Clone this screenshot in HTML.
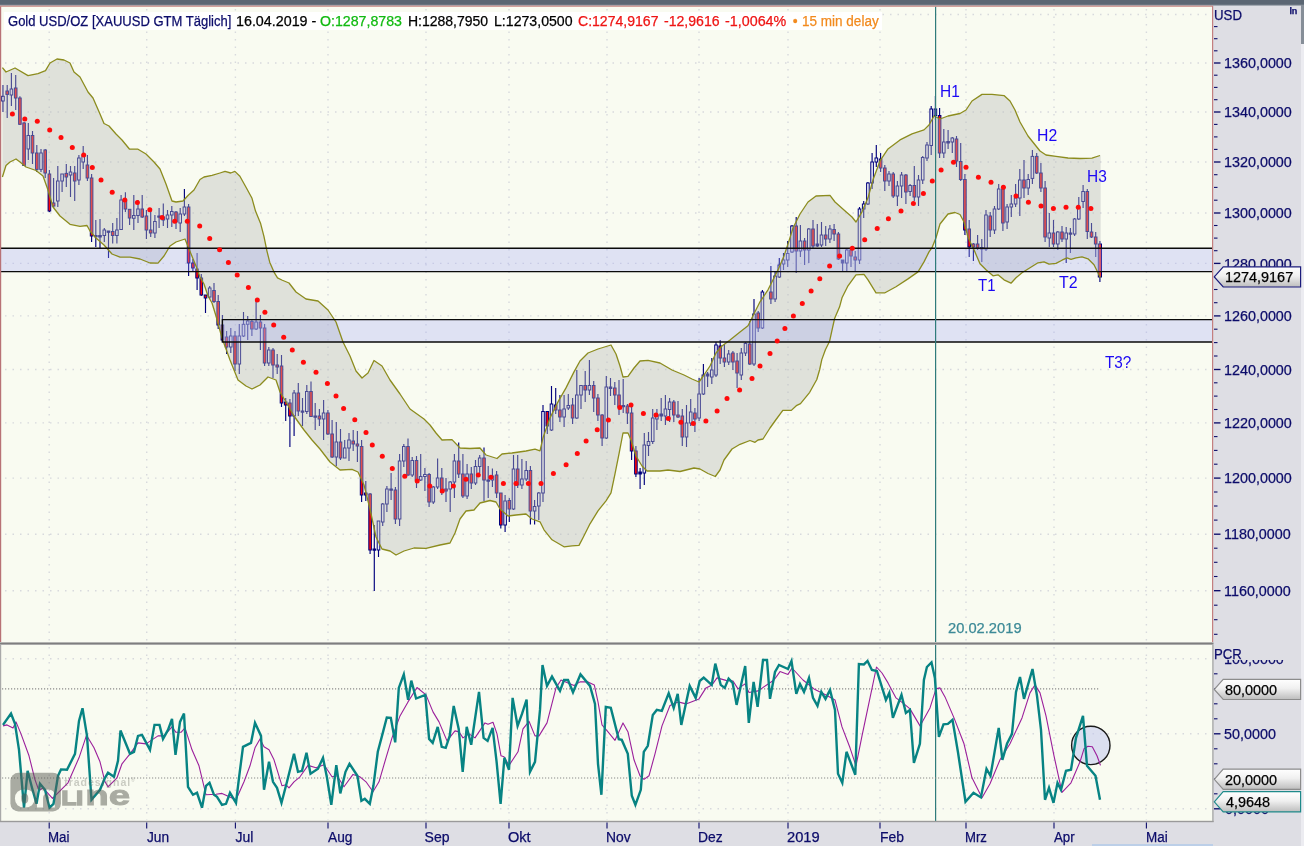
<!DOCTYPE html><html><head><meta charset="utf-8"><title>Gold USD/OZ</title>
<style>
html,body{margin:0;padding:0;background:#dedee4;}
#c{position:relative;width:1304px;height:846px;overflow:hidden;font-family:"Liberation Sans",sans-serif;font-size:14px;color:#0c0c6a;}
.t{position:absolute;white-space:nowrap;line-height:16px;height:16px;-webkit-text-stroke:0.25px currentColor;}
.ax{left:1224.6px;}
.bl{color:#1212ee;font-size:17px;line-height:18px;height:18px;}
.fl{color:#000;left:1225.6px;}
#title{position:absolute;left:4px;top:12px;width:878px;height:18px;background:#ffffff;}
#title span{position:absolute;top:1px;line-height:16px;white-space:nowrap;-webkit-text-stroke:0.25px currentColor;}
</style></head><body><div id="c">
<svg width="1304" height="846" viewBox="0 0 1304 846" style="position:absolute;left:0;top:0">
<rect x="0" y="0" width="1304" height="846" fill="#dedee4"/>
<rect x="0" y="0" width="1304" height="5" fill="#5b6673"/>
<rect x="0" y="4.6" width="1304" height="1" fill="#7d8792"/>
<rect x="0" y="6" width="1213" height="637" fill="#f9fbf1"/>
<rect x="0" y="644" width="1213" height="177.5" fill="#f9fbf1"/>
<rect x="1301" y="5" width="3" height="841" fill="#ececf1"/>
<rect x="1301" y="5" width="3" height="39" fill="#868e98"/>
<rect x="1092" y="844" width="121" height="2" fill="#bccfe8"/>
<g stroke="#d8d9dd" stroke-width="1.4" stroke-dasharray="1.5 6" fill="none">
<line x1="5" x2="1212" y1="590.7" y2="590.7"/>
<line x1="5" x2="1212" y1="534.2" y2="534.2"/>
<line x1="5" x2="1212" y1="478.1" y2="478.1"/>
<line x1="5" x2="1212" y1="422.9" y2="422.9"/>
<line x1="5" x2="1212" y1="369.5" y2="369.5"/>
<line x1="5" x2="1212" y1="315.9" y2="315.9"/>
<line x1="5" x2="1212" y1="263.4" y2="263.4"/>
<line x1="5" x2="1212" y1="213.0" y2="213.0"/>
<line x1="5" x2="1212" y1="162.0" y2="162.0"/>
<line x1="5" x2="1212" y1="112.0" y2="112.0"/>
<line x1="5" x2="1212" y1="63.0" y2="63.0"/>
<line x1="5" x2="1212" y1="14.5" y2="14.5"/>
<line x1="49.2" x2="49.2" y1="9" y2="641"/>
<line x1="49.2" x2="49.2" y1="647" y2="820"/>
<line x1="146.7" x2="146.7" y1="9" y2="641"/>
<line x1="146.7" x2="146.7" y1="647" y2="820"/>
<line x1="235.4" x2="235.4" y1="9" y2="641"/>
<line x1="235.4" x2="235.4" y1="647" y2="820"/>
<line x1="328" x2="328" y1="9" y2="641"/>
<line x1="328" x2="328" y1="647" y2="820"/>
<line x1="426" x2="426" y1="9" y2="641"/>
<line x1="426" x2="426" y1="647" y2="820"/>
<line x1="509" x2="509" y1="9" y2="641"/>
<line x1="509" x2="509" y1="647" y2="820"/>
<line x1="607" x2="607" y1="9" y2="641"/>
<line x1="607" x2="607" y1="647" y2="820"/>
<line x1="699" x2="699" y1="9" y2="641"/>
<line x1="699" x2="699" y1="647" y2="820"/>
<line x1="788" x2="788" y1="9" y2="641"/>
<line x1="788" x2="788" y1="647" y2="820"/>
<line x1="880" x2="880" y1="9" y2="641"/>
<line x1="880" x2="880" y1="647" y2="820"/>
<line x1="966" x2="966" y1="9" y2="641"/>
<line x1="966" x2="966" y1="647" y2="820"/>
<line x1="1054" x2="1054" y1="9" y2="641"/>
<line x1="1054" x2="1054" y1="647" y2="820"/>
<line x1="1146.4" x2="1146.4" y1="9" y2="641"/>
<line x1="1146.4" x2="1146.4" y1="647" y2="820"/>
<line x1="5" x2="1212" y1="808.8" y2="808.8"/>
<line x1="5" x2="1212" y1="733.8" y2="733.8"/>
<line x1="5" x2="1212" y1="658.8" y2="658.8"/>
</g>
<g stroke="#00007c" stroke-width="1">
<line x1="3.0" x2="3.0" y1="85.0" y2="112.0" stroke-width="1.15"/>
<rect x="1.7" y="96.3" width="2.6" height="4.7" fill="#eeeff4"/>
<line x1="7.2" x2="7.2" y1="85.0" y2="118.0" stroke-width="1.15"/>
<rect x="5.9" y="91.0" width="2.6" height="3.4" fill="#ff0505"/>
<line x1="11.4" x2="11.4" y1="73.0" y2="106.0" stroke-width="1.15"/>
<rect x="10.1" y="89.0" width="2.6" height="6.0" fill="#eeeff4"/>
<line x1="15.7" x2="15.7" y1="75.0" y2="110.0" stroke-width="1.15"/>
<rect x="14.4" y="88.0" width="2.6" height="10.0" fill="#ff0505"/>
<line x1="19.9" x2="19.9" y1="96.3" y2="125.0" stroke-width="1.15"/>
<rect x="18.6" y="98.0" width="2.6" height="26.3" fill="#ff0505"/>
<line x1="24.1" x2="24.1" y1="122.0" y2="166.0" stroke-width="1.15"/>
<rect x="22.8" y="123.0" width="2.6" height="42.4" fill="#ff0505"/>
<line x1="28.3" x2="28.3" y1="123.0" y2="160.0" stroke-width="1.15"/>
<rect x="27.0" y="135.5" width="2.6" height="13.5" fill="#eeeff4"/>
<line x1="32.5" x2="32.5" y1="131.0" y2="164.0" stroke-width="1.15"/>
<rect x="31.2" y="135.5" width="2.6" height="17.5" fill="#ff0505"/>
<line x1="36.8" x2="36.8" y1="145.0" y2="172.0" stroke-width="1.15"/>
<rect x="35.5" y="153.0" width="2.6" height="16.4" fill="#ff0505"/>
<line x1="41.0" x2="41.0" y1="149.0" y2="172.0" stroke-width="1.15"/>
<rect x="39.7" y="153.0" width="2.6" height="16.4" fill="#eeeff4"/>
<line x1="45.2" x2="45.2" y1="149.0" y2="178.0" stroke-width="1.15"/>
<rect x="43.9" y="150.0" width="2.6" height="23.0" fill="#ff0505"/>
<line x1="49.4" x2="49.4" y1="170.0" y2="212.0" stroke-width="1.15"/>
<rect x="48.1" y="174.0" width="2.6" height="37.0" fill="#ff0505"/>
<line x1="53.6" x2="53.6" y1="178.0" y2="208.0" stroke-width="1.15"/>
<rect x="52.3" y="203.0" width="2.6" height="3.0" fill="#ff0505"/>
<line x1="57.8" x2="57.8" y1="166.0" y2="207.0" stroke-width="1.15"/>
<rect x="56.5" y="181.0" width="2.6" height="20.0" fill="#eeeff4"/>
<line x1="62.1" x2="62.1" y1="174.0" y2="192.0" stroke-width="1.15"/>
<rect x="60.8" y="174.0" width="2.6" height="7.0" fill="#eeeff4"/>
<line x1="66.3" x2="66.3" y1="164.0" y2="187.0" stroke-width="1.15"/>
<rect x="65.0" y="173.4" width="2.6" height="3.6" fill="#ff0505"/>
<line x1="70.5" x2="70.5" y1="166.0" y2="197.0" stroke-width="1.15"/>
<rect x="69.2" y="172.0" width="2.6" height="3.0" fill="#eeeff4"/>
<line x1="74.7" x2="74.7" y1="166.0" y2="201.0" stroke-width="1.15"/>
<rect x="73.4" y="173.0" width="2.6" height="8.0" fill="#ff0505"/>
<line x1="78.9" x2="78.9" y1="155.0" y2="185.0" stroke-width="1.15"/>
<rect x="77.6" y="158.0" width="2.6" height="22.0" fill="#eeeff4"/>
<line x1="83.2" x2="83.2" y1="146.0" y2="169.0" stroke-width="1.15"/>
<rect x="81.9" y="155.0" width="2.6" height="7.0" fill="#eeeff4"/>
<line x1="87.4" x2="87.4" y1="155.0" y2="181.0" stroke-width="1.15"/>
<rect x="86.1" y="165.0" width="2.6" height="13.0" fill="#ff0505"/>
<line x1="91.6" x2="91.6" y1="174.0" y2="242.0" stroke-width="1.15"/>
<rect x="90.3" y="178.0" width="2.6" height="58.0" fill="#ff0505"/>
<line x1="95.8" x2="95.8" y1="220.0" y2="247.0" stroke-width="1.15"/>
<rect x="94.5" y="235.5" width="2.6" height="1.2" fill="#00007c"/>
<line x1="100.0" x2="100.0" y1="219.0" y2="249.0" stroke-width="1.15"/>
<rect x="98.7" y="235.5" width="2.6" height="1.5" fill="#00007c"/>
<line x1="104.3" x2="104.3" y1="228.0" y2="242.0" stroke-width="1.15"/>
<rect x="103.0" y="230.0" width="2.6" height="5.5" fill="#eeeff4"/>
<line x1="108.5" x2="108.5" y1="231.0" y2="258.0" stroke-width="1.15"/>
<rect x="107.2" y="231.0" width="2.6" height="1.3" fill="#00007c"/>
<line x1="112.7" x2="112.7" y1="223.0" y2="243.5" stroke-width="1.15"/>
<rect x="111.4" y="231.5" width="2.6" height="4.0" fill="#ff0505"/>
<line x1="116.9" x2="116.9" y1="218.0" y2="243.5" stroke-width="1.15"/>
<rect x="115.6" y="230.0" width="2.6" height="5.5" fill="#eeeff4"/>
<line x1="121.1" x2="121.1" y1="195.0" y2="230.0" stroke-width="1.15"/>
<rect x="119.8" y="200.0" width="2.6" height="29.5" fill="#eeeff4"/>
<line x1="125.4" x2="125.4" y1="192.3" y2="212.0" stroke-width="1.15"/>
<rect x="124.1" y="200.0" width="2.6" height="9.0" fill="#ff0505"/>
<line x1="129.6" x2="129.6" y1="209.0" y2="225.0" stroke-width="1.15"/>
<rect x="128.3" y="209.3" width="2.6" height="8.7" fill="#ff0505"/>
<line x1="133.8" x2="133.8" y1="195.0" y2="230.0" stroke-width="1.15"/>
<rect x="132.5" y="215.5" width="2.6" height="2.8" fill="#eeeff4"/>
<line x1="138.0" x2="138.0" y1="200.0" y2="223.0" stroke-width="1.15"/>
<rect x="136.7" y="209.0" width="2.6" height="6.5" fill="#eeeff4"/>
<line x1="142.2" x2="142.2" y1="195.0" y2="218.0" stroke-width="1.15"/>
<rect x="140.9" y="209.0" width="2.6" height="8.0" fill="#ff0505"/>
<line x1="146.4" x2="146.4" y1="210.0" y2="239.0" stroke-width="1.15"/>
<rect x="145.1" y="216.0" width="2.6" height="14.0" fill="#ff0505"/>
<line x1="150.7" x2="150.7" y1="208.0" y2="237.0" stroke-width="1.15"/>
<rect x="149.4" y="230.0" width="2.6" height="3.0" fill="#ff0505"/>
<line x1="154.9" x2="154.9" y1="215.0" y2="238.0" stroke-width="1.15"/>
<rect x="153.6" y="221.5" width="2.6" height="11.5" fill="#eeeff4"/>
<line x1="159.1" x2="159.1" y1="208.0" y2="228.0" stroke-width="1.15"/>
<rect x="157.8" y="216.0" width="2.6" height="1.2" fill="#00007c"/>
<line x1="163.3" x2="163.3" y1="203.5" y2="226.0" stroke-width="1.15"/>
<rect x="162.0" y="217.0" width="2.6" height="3.0" fill="#ff0505"/>
<line x1="167.5" x2="167.5" y1="210.0" y2="228.0" stroke-width="1.15"/>
<rect x="166.2" y="215.0" width="2.6" height="4.0" fill="#eeeff4"/>
<line x1="171.8" x2="171.8" y1="206.0" y2="227.0" stroke-width="1.15"/>
<rect x="170.5" y="211.5" width="2.6" height="3.5" fill="#eeeff4"/>
<line x1="176.0" x2="176.0" y1="211.0" y2="229.0" stroke-width="1.15"/>
<rect x="174.7" y="212.0" width="2.6" height="10.0" fill="#ff0505"/>
<line x1="180.2" x2="180.2" y1="208.0" y2="232.0" stroke-width="1.15"/>
<rect x="178.9" y="214.0" width="2.6" height="9.0" fill="#eeeff4"/>
<line x1="184.4" x2="184.4" y1="189.0" y2="216.0" stroke-width="1.15"/>
<rect x="183.1" y="207.0" width="2.6" height="7.0" fill="#eeeff4"/>
<line x1="188.6" x2="188.6" y1="204.0" y2="276.0" stroke-width="1.15"/>
<rect x="187.3" y="207.0" width="2.6" height="56.0" fill="#ff0505"/>
<line x1="192.9" x2="192.9" y1="259.0" y2="271.0" stroke-width="1.15"/>
<rect x="191.6" y="263.0" width="2.6" height="5.0" fill="#ff0505"/>
<line x1="197.1" x2="197.1" y1="253.0" y2="290.0" stroke-width="1.15"/>
<rect x="195.8" y="269.0" width="2.6" height="9.0" fill="#ff0505"/>
<line x1="201.3" x2="201.3" y1="274.0" y2="296.0" stroke-width="1.15"/>
<rect x="200.0" y="278.0" width="2.6" height="17.0" fill="#ff0505"/>
<line x1="205.5" x2="205.5" y1="295.0" y2="313.0" stroke-width="1.15"/>
<rect x="204.2" y="295.0" width="2.6" height="3.0" fill="#ff0505"/>
<line x1="209.7" x2="209.7" y1="286.0" y2="299.0" stroke-width="1.15"/>
<rect x="208.4" y="288.0" width="2.6" height="9.0" fill="#eeeff4"/>
<line x1="214.0" x2="214.0" y1="283.0" y2="303.0" stroke-width="1.15"/>
<rect x="212.7" y="290.5" width="2.6" height="11.0" fill="#ff0505"/>
<line x1="218.2" x2="218.2" y1="295.0" y2="329.0" stroke-width="1.15"/>
<rect x="216.9" y="301.5" width="2.6" height="23.5" fill="#ff0505"/>
<line x1="222.4" x2="222.4" y1="315.0" y2="342.0" stroke-width="1.15"/>
<rect x="221.1" y="325.0" width="2.6" height="15.0" fill="#ff0505"/>
<line x1="226.6" x2="226.6" y1="331.0" y2="354.0" stroke-width="1.15"/>
<rect x="225.3" y="337.0" width="2.6" height="10.0" fill="#ff0505"/>
<line x1="230.8" x2="230.8" y1="328.0" y2="353.0" stroke-width="1.15"/>
<rect x="229.5" y="336.0" width="2.6" height="11.0" fill="#eeeff4"/>
<line x1="235.0" x2="235.0" y1="331.0" y2="371.0" stroke-width="1.15"/>
<rect x="233.7" y="336.0" width="2.6" height="28.0" fill="#ff0505"/>
<line x1="239.3" x2="239.3" y1="324.0" y2="374.0" stroke-width="1.15"/>
<rect x="238.0" y="336.0" width="2.6" height="28.0" fill="#eeeff4"/>
<line x1="243.5" x2="243.5" y1="312.0" y2="337.0" stroke-width="1.15"/>
<rect x="242.2" y="324.3" width="2.6" height="11.7" fill="#eeeff4"/>
<line x1="247.7" x2="247.7" y1="316.0" y2="340.0" stroke-width="1.15"/>
<rect x="246.4" y="321.0" width="2.6" height="3.3" fill="#eeeff4"/>
<line x1="251.9" x2="251.9" y1="320.0" y2="336.0" stroke-width="1.15"/>
<rect x="250.6" y="321.5" width="2.6" height="7.5" fill="#ff0505"/>
<line x1="256.1" x2="256.1" y1="301.0" y2="330.0" stroke-width="1.15"/>
<rect x="254.8" y="322.0" width="2.6" height="7.0" fill="#eeeff4"/>
<line x1="260.4" x2="260.4" y1="315.0" y2="350.0" stroke-width="1.15"/>
<rect x="259.1" y="322.0" width="2.6" height="6.0" fill="#ff0505"/>
<line x1="264.6" x2="264.6" y1="324.0" y2="366.0" stroke-width="1.15"/>
<rect x="263.3" y="328.0" width="2.6" height="35.0" fill="#ff0505"/>
<line x1="268.8" x2="268.8" y1="347.0" y2="366.0" stroke-width="1.15"/>
<rect x="267.5" y="350.0" width="2.6" height="13.0" fill="#eeeff4"/>
<line x1="273.0" x2="273.0" y1="348.0" y2="378.0" stroke-width="1.15"/>
<rect x="271.7" y="350.0" width="2.6" height="15.0" fill="#ff0505"/>
<line x1="277.2" x2="277.2" y1="354.0" y2="374.0" stroke-width="1.15"/>
<rect x="275.9" y="365.0" width="2.6" height="2.0" fill="#ff0505"/>
<line x1="281.5" x2="281.5" y1="355.0" y2="407.0" stroke-width="1.15"/>
<rect x="280.2" y="366.0" width="2.6" height="37.0" fill="#ff0505"/>
<line x1="285.7" x2="285.7" y1="398.0" y2="421.0" stroke-width="1.15"/>
<rect x="284.4" y="402.0" width="2.6" height="3.0" fill="#ff0505"/>
<line x1="289.9" x2="289.9" y1="399.0" y2="447.0" stroke-width="1.15"/>
<rect x="288.6" y="403.0" width="2.6" height="13.0" fill="#ff0505"/>
<line x1="294.1" x2="294.1" y1="390.0" y2="436.0" stroke-width="1.15"/>
<rect x="292.8" y="393.0" width="2.6" height="23.0" fill="#eeeff4"/>
<line x1="298.3" x2="298.3" y1="383.0" y2="416.0" stroke-width="1.15"/>
<rect x="297.0" y="393.0" width="2.6" height="18.0" fill="#ff0505"/>
<line x1="302.5" x2="302.5" y1="398.0" y2="426.0" stroke-width="1.15"/>
<rect x="301.2" y="411.0" width="2.6" height="1.2" fill="#00007c"/>
<line x1="306.8" x2="306.8" y1="385.0" y2="414.0" stroke-width="1.15"/>
<rect x="305.5" y="391.5" width="2.6" height="20.0" fill="#eeeff4"/>
<line x1="311.0" x2="311.0" y1="381.5" y2="417.0" stroke-width="1.15"/>
<rect x="309.7" y="391.5" width="2.6" height="25.0" fill="#ff0505"/>
<line x1="315.2" x2="315.2" y1="403.0" y2="430.0" stroke-width="1.15"/>
<rect x="313.9" y="416.0" width="2.6" height="1.2" fill="#00007c"/>
<line x1="319.4" x2="319.4" y1="409.0" y2="426.0" stroke-width="1.15"/>
<rect x="318.1" y="416.0" width="2.6" height="3.0" fill="#ff0505"/>
<line x1="323.6" x2="323.6" y1="400.0" y2="440.0" stroke-width="1.15"/>
<rect x="322.3" y="413.0" width="2.6" height="6.0" fill="#eeeff4"/>
<line x1="327.9" x2="327.9" y1="410.0" y2="435.0" stroke-width="1.15"/>
<rect x="326.6" y="413.0" width="2.6" height="21.0" fill="#ff0505"/>
<line x1="332.1" x2="332.1" y1="420.0" y2="458.0" stroke-width="1.15"/>
<rect x="330.8" y="434.0" width="2.6" height="23.0" fill="#ff0505"/>
<line x1="336.3" x2="336.3" y1="422.0" y2="466.0" stroke-width="1.15"/>
<rect x="335.0" y="442.0" width="2.6" height="15.0" fill="#eeeff4"/>
<line x1="340.5" x2="340.5" y1="429.0" y2="460.0" stroke-width="1.15"/>
<rect x="339.2" y="442.0" width="2.6" height="16.0" fill="#ff0505"/>
<line x1="344.7" x2="344.7" y1="440.0" y2="458.0" stroke-width="1.15"/>
<rect x="343.4" y="448.0" width="2.6" height="10.0" fill="#eeeff4"/>
<line x1="349.0" x2="349.0" y1="433.0" y2="461.0" stroke-width="1.15"/>
<rect x="347.7" y="440.0" width="2.6" height="8.0" fill="#eeeff4"/>
<line x1="353.2" x2="353.2" y1="430.0" y2="451.0" stroke-width="1.15"/>
<rect x="351.9" y="441.0" width="2.6" height="3.0" fill="#ff0505"/>
<line x1="357.4" x2="357.4" y1="431.0" y2="462.0" stroke-width="1.15"/>
<rect x="356.1" y="444.0" width="2.6" height="2.0" fill="#ff0505"/>
<line x1="361.6" x2="361.6" y1="440.0" y2="502.0" stroke-width="1.15"/>
<rect x="360.3" y="446.5" width="2.6" height="48.5" fill="#ff0505"/>
<line x1="365.8" x2="365.8" y1="481.0" y2="501.0" stroke-width="1.15"/>
<rect x="364.5" y="493.0" width="2.6" height="2.0" fill="#ff0505"/>
<line x1="370.1" x2="370.1" y1="493.0" y2="554.0" stroke-width="1.15"/>
<rect x="368.8" y="494.0" width="2.6" height="56.0" fill="#ff0505"/>
<line x1="374.3" x2="374.3" y1="525.0" y2="591.0" stroke-width="1.15"/>
<rect x="373.0" y="549.0" width="2.6" height="1.2" fill="#00007c"/>
<line x1="378.5" x2="378.5" y1="521.0" y2="557.0" stroke-width="1.15"/>
<rect x="377.2" y="521.0" width="2.6" height="29.0" fill="#eeeff4"/>
<line x1="382.7" x2="382.7" y1="503.0" y2="526.0" stroke-width="1.15"/>
<rect x="381.4" y="504.0" width="2.6" height="18.0" fill="#eeeff4"/>
<line x1="386.9" x2="386.9" y1="486.0" y2="512.0" stroke-width="1.15"/>
<rect x="385.6" y="489.0" width="2.6" height="15.0" fill="#eeeff4"/>
<line x1="391.1" x2="391.1" y1="473.0" y2="500.0" stroke-width="1.15"/>
<rect x="389.8" y="489.0" width="2.6" height="1.2" fill="#00007c"/>
<line x1="395.4" x2="395.4" y1="487.0" y2="524.0" stroke-width="1.15"/>
<rect x="394.1" y="490.0" width="2.6" height="29.0" fill="#ff0505"/>
<line x1="399.6" x2="399.6" y1="454.0" y2="526.0" stroke-width="1.15"/>
<rect x="398.3" y="461.0" width="2.6" height="58.0" fill="#eeeff4"/>
<line x1="403.8" x2="403.8" y1="444.0" y2="467.0" stroke-width="1.15"/>
<rect x="402.5" y="446.5" width="2.6" height="14.5" fill="#eeeff4"/>
<line x1="408.0" x2="408.0" y1="438.6" y2="476.0" stroke-width="1.15"/>
<rect x="406.7" y="446.5" width="2.6" height="28.5" fill="#ff0505"/>
<line x1="412.2" x2="412.2" y1="457.0" y2="477.0" stroke-width="1.15"/>
<rect x="410.9" y="460.5" width="2.6" height="14.5" fill="#eeeff4"/>
<line x1="416.5" x2="416.5" y1="456.0" y2="488.0" stroke-width="1.15"/>
<rect x="415.2" y="460.5" width="2.6" height="19.5" fill="#ff0505"/>
<line x1="420.7" x2="420.7" y1="454.0" y2="481.0" stroke-width="1.15"/>
<rect x="419.4" y="476.5" width="2.6" height="3.5" fill="#eeeff4"/>
<line x1="424.9" x2="424.9" y1="468.0" y2="491.0" stroke-width="1.15"/>
<rect x="423.6" y="474.5" width="2.6" height="2.0" fill="#eeeff4"/>
<line x1="429.1" x2="429.1" y1="473.0" y2="507.0" stroke-width="1.15"/>
<rect x="427.8" y="474.5" width="2.6" height="27.5" fill="#ff0505"/>
<line x1="433.3" x2="433.3" y1="486.0" y2="504.0" stroke-width="1.15"/>
<rect x="432.0" y="487.0" width="2.6" height="15.0" fill="#eeeff4"/>
<line x1="437.6" x2="437.6" y1="458.5" y2="489.0" stroke-width="1.15"/>
<rect x="436.3" y="478.0" width="2.6" height="9.0" fill="#eeeff4"/>
<line x1="441.8" x2="441.8" y1="468.0" y2="495.0" stroke-width="1.15"/>
<rect x="440.5" y="478.0" width="2.6" height="14.0" fill="#ff0505"/>
<line x1="446.0" x2="446.0" y1="478.0" y2="502.0" stroke-width="1.15"/>
<rect x="444.7" y="489.0" width="2.6" height="2.0" fill="#ff0505"/>
<line x1="450.2" x2="450.2" y1="481.0" y2="512.0" stroke-width="1.15"/>
<rect x="448.9" y="482.0" width="2.6" height="7.0" fill="#eeeff4"/>
<line x1="454.4" x2="454.4" y1="454.0" y2="498.0" stroke-width="1.15"/>
<rect x="453.1" y="461.0" width="2.6" height="21.0" fill="#eeeff4"/>
<line x1="458.7" x2="458.7" y1="442.6" y2="478.0" stroke-width="1.15"/>
<rect x="457.4" y="461.0" width="2.6" height="13.0" fill="#ff0505"/>
<line x1="462.9" x2="462.9" y1="454.0" y2="498.0" stroke-width="1.15"/>
<rect x="461.6" y="474.0" width="2.6" height="22.0" fill="#ff0505"/>
<line x1="467.1" x2="467.1" y1="464.0" y2="499.0" stroke-width="1.15"/>
<rect x="465.8" y="474.0" width="2.6" height="22.0" fill="#eeeff4"/>
<line x1="471.3" x2="471.3" y1="467.0" y2="489.0" stroke-width="1.15"/>
<rect x="470.0" y="474.0" width="2.6" height="9.0" fill="#ff0505"/>
<line x1="475.5" x2="475.5" y1="460.0" y2="485.0" stroke-width="1.15"/>
<rect x="474.2" y="466.5" width="2.6" height="16.5" fill="#eeeff4"/>
<line x1="479.7" x2="479.7" y1="455.0" y2="473.0" stroke-width="1.15"/>
<rect x="478.4" y="458.0" width="2.6" height="8.5" fill="#eeeff4"/>
<line x1="484.0" x2="484.0" y1="447.4" y2="501.0" stroke-width="1.15"/>
<rect x="482.7" y="458.0" width="2.6" height="22.0" fill="#ff0505"/>
<line x1="488.2" x2="488.2" y1="466.0" y2="498.0" stroke-width="1.15"/>
<rect x="486.9" y="480.0" width="2.6" height="1.2" fill="#00007c"/>
<line x1="492.4" x2="492.4" y1="468.5" y2="487.0" stroke-width="1.15"/>
<rect x="491.1" y="476.0" width="2.6" height="4.0" fill="#eeeff4"/>
<line x1="496.6" x2="496.6" y1="471.0" y2="498.0" stroke-width="1.15"/>
<rect x="495.3" y="475.0" width="2.6" height="18.0" fill="#ff0505"/>
<line x1="500.8" x2="500.8" y1="493.0" y2="528.5" stroke-width="1.15"/>
<rect x="499.5" y="493.0" width="2.6" height="32.0" fill="#ff0505"/>
<line x1="505.1" x2="505.1" y1="495.0" y2="532.0" stroke-width="1.15"/>
<rect x="503.8" y="501.0" width="2.6" height="24.0" fill="#eeeff4"/>
<line x1="509.3" x2="509.3" y1="498.0" y2="522.0" stroke-width="1.15"/>
<rect x="508.0" y="500.5" width="2.6" height="8.5" fill="#ff0505"/>
<line x1="513.5" x2="513.5" y1="455.0" y2="510.0" stroke-width="1.15"/>
<rect x="512.2" y="469.0" width="2.6" height="40.0" fill="#eeeff4"/>
<line x1="517.7" x2="517.7" y1="455.0" y2="488.0" stroke-width="1.15"/>
<rect x="516.4" y="469.0" width="2.6" height="16.0" fill="#ff0505"/>
<line x1="521.9" x2="521.9" y1="459.0" y2="489.0" stroke-width="1.15"/>
<rect x="520.6" y="479.0" width="2.6" height="6.0" fill="#eeeff4"/>
<line x1="526.2" x2="526.2" y1="461.0" y2="481.0" stroke-width="1.15"/>
<rect x="524.9" y="470.5" width="2.6" height="8.5" fill="#eeeff4"/>
<line x1="530.4" x2="530.4" y1="466.0" y2="524.5" stroke-width="1.15"/>
<rect x="529.1" y="470.5" width="2.6" height="40.5" fill="#ff0505"/>
<line x1="534.6" x2="534.6" y1="500.0" y2="524.5" stroke-width="1.15"/>
<rect x="533.3" y="506.5" width="2.6" height="4.5" fill="#eeeff4"/>
<line x1="538.8" x2="538.8" y1="492.0" y2="520.0" stroke-width="1.15"/>
<rect x="537.5" y="493.0" width="2.6" height="13.0" fill="#eeeff4"/>
<line x1="543.0" x2="543.0" y1="405.0" y2="502.0" stroke-width="1.15"/>
<rect x="541.7" y="411.5" width="2.6" height="81.5" fill="#eeeff4"/>
<line x1="547.3" x2="547.3" y1="411.0" y2="434.0" stroke-width="1.15"/>
<rect x="546.0" y="411.5" width="2.6" height="14.5" fill="#ff0505"/>
<line x1="551.5" x2="551.5" y1="386.0" y2="431.0" stroke-width="1.15"/>
<rect x="550.2" y="404.0" width="2.6" height="26.0" fill="#eeeff4"/>
<line x1="555.7" x2="555.7" y1="388.0" y2="414.0" stroke-width="1.15"/>
<rect x="554.4" y="405.0" width="2.6" height="5.0" fill="#ff0505"/>
<line x1="559.9" x2="559.9" y1="395.0" y2="422.0" stroke-width="1.15"/>
<rect x="558.6" y="410.0" width="2.6" height="7.0" fill="#ff0505"/>
<line x1="564.1" x2="564.1" y1="395.0" y2="427.0" stroke-width="1.15"/>
<rect x="562.8" y="409.0" width="2.6" height="8.0" fill="#eeeff4"/>
<line x1="568.3" x2="568.3" y1="394.0" y2="410.0" stroke-width="1.15"/>
<rect x="567.0" y="405.5" width="2.6" height="2.5" fill="#eeeff4"/>
<line x1="572.6" x2="572.6" y1="398.0" y2="424.0" stroke-width="1.15"/>
<rect x="571.3" y="405.0" width="2.6" height="13.0" fill="#ff0505"/>
<line x1="576.8" x2="576.8" y1="370.0" y2="419.0" stroke-width="1.15"/>
<rect x="575.5" y="395.0" width="2.6" height="23.0" fill="#eeeff4"/>
<line x1="581.0" x2="581.0" y1="385.0" y2="409.0" stroke-width="1.15"/>
<rect x="579.7" y="385.5" width="2.6" height="9.5" fill="#eeeff4"/>
<line x1="585.2" x2="585.2" y1="371.0" y2="402.0" stroke-width="1.15"/>
<rect x="583.9" y="385.5" width="2.6" height="4.5" fill="#ff0505"/>
<line x1="589.4" x2="589.4" y1="360.0" y2="395.0" stroke-width="1.15"/>
<rect x="588.1" y="385.5" width="2.6" height="4.5" fill="#eeeff4"/>
<line x1="593.7" x2="593.7" y1="381.0" y2="412.0" stroke-width="1.15"/>
<rect x="592.4" y="385.5" width="2.6" height="12.5" fill="#ff0505"/>
<line x1="597.9" x2="597.9" y1="394.0" y2="421.0" stroke-width="1.15"/>
<rect x="596.6" y="398.0" width="2.6" height="17.0" fill="#ff0505"/>
<line x1="602.1" x2="602.1" y1="414.0" y2="446.0" stroke-width="1.15"/>
<rect x="600.8" y="415.0" width="2.6" height="23.0" fill="#ff0505"/>
<line x1="606.3" x2="606.3" y1="376.0" y2="439.0" stroke-width="1.15"/>
<rect x="605.0" y="387.0" width="2.6" height="51.0" fill="#eeeff4"/>
<line x1="610.5" x2="610.5" y1="378.0" y2="396.0" stroke-width="1.15"/>
<rect x="609.2" y="387.0" width="2.6" height="1.5" fill="#00007c"/>
<line x1="614.8" x2="614.8" y1="382.0" y2="405.0" stroke-width="1.15"/>
<rect x="613.5" y="388.0" width="2.6" height="7.0" fill="#ff0505"/>
<line x1="619.0" x2="619.0" y1="380.0" y2="415.0" stroke-width="1.15"/>
<rect x="617.7" y="395.0" width="2.6" height="12.0" fill="#ff0505"/>
<line x1="623.2" x2="623.2" y1="379.0" y2="413.0" stroke-width="1.15"/>
<rect x="621.9" y="405.5" width="2.6" height="1.2" fill="#00007c"/>
<line x1="627.4" x2="627.4" y1="404.0" y2="424.0" stroke-width="1.15"/>
<rect x="626.1" y="406.0" width="2.6" height="7.0" fill="#ff0505"/>
<line x1="631.6" x2="631.6" y1="407.0" y2="460.0" stroke-width="1.15"/>
<rect x="630.3" y="413.0" width="2.6" height="38.0" fill="#ff0505"/>
<line x1="635.9" x2="635.9" y1="446.0" y2="477.0" stroke-width="1.15"/>
<rect x="634.6" y="451.0" width="2.6" height="23.0" fill="#ff0505"/>
<line x1="640.1" x2="640.1" y1="468.0" y2="489.0" stroke-width="1.15"/>
<rect x="638.8" y="472.0" width="2.6" height="2.0" fill="#00007c"/>
<line x1="644.3" x2="644.3" y1="433.0" y2="485.0" stroke-width="1.15"/>
<rect x="643.0" y="445.0" width="2.6" height="28.0" fill="#eeeff4"/>
<line x1="648.5" x2="648.5" y1="432.0" y2="456.0" stroke-width="1.15"/>
<rect x="647.2" y="441.5" width="2.6" height="4.0" fill="#eeeff4"/>
<line x1="652.7" x2="652.7" y1="409.0" y2="444.0" stroke-width="1.15"/>
<rect x="651.4" y="418.0" width="2.6" height="23.5" fill="#eeeff4"/>
<line x1="656.9" x2="656.9" y1="409.0" y2="430.0" stroke-width="1.15"/>
<rect x="655.6" y="415.0" width="2.6" height="4.0" fill="#eeeff4"/>
<line x1="661.2" x2="661.2" y1="398.0" y2="421.0" stroke-width="1.15"/>
<rect x="659.9" y="414.0" width="2.6" height="2.0" fill="#00007c"/>
<line x1="665.4" x2="665.4" y1="395.0" y2="425.0" stroke-width="1.15"/>
<rect x="664.1" y="409.0" width="2.6" height="7.0" fill="#eeeff4"/>
<line x1="669.6" x2="669.6" y1="398.0" y2="422.0" stroke-width="1.15"/>
<rect x="668.3" y="402.0" width="2.6" height="7.5" fill="#eeeff4"/>
<line x1="673.8" x2="673.8" y1="400.0" y2="422.0" stroke-width="1.15"/>
<rect x="672.5" y="402.0" width="2.6" height="13.0" fill="#ff0505"/>
<line x1="678.0" x2="678.0" y1="401.0" y2="418.0" stroke-width="1.15"/>
<rect x="676.7" y="415.0" width="2.6" height="2.0" fill="#ff0505"/>
<line x1="682.3" x2="682.3" y1="409.0" y2="446.0" stroke-width="1.15"/>
<rect x="681.0" y="416.0" width="2.6" height="21.0" fill="#ff0505"/>
<line x1="686.5" x2="686.5" y1="405.0" y2="447.0" stroke-width="1.15"/>
<rect x="685.2" y="423.0" width="2.6" height="14.0" fill="#eeeff4"/>
<line x1="690.7" x2="690.7" y1="399.0" y2="426.0" stroke-width="1.15"/>
<rect x="689.4" y="412.0" width="2.6" height="11.0" fill="#eeeff4"/>
<line x1="694.9" x2="694.9" y1="408.0" y2="432.0" stroke-width="1.15"/>
<rect x="693.6" y="413.0" width="2.6" height="6.0" fill="#ff0505"/>
<line x1="699.1" x2="699.1" y1="378.0" y2="421.0" stroke-width="1.15"/>
<rect x="697.8" y="394.0" width="2.6" height="24.0" fill="#eeeff4"/>
<line x1="703.4" x2="703.4" y1="364.0" y2="395.0" stroke-width="1.15"/>
<rect x="702.1" y="375.0" width="2.6" height="19.0" fill="#eeeff4"/>
<line x1="707.6" x2="707.6" y1="372.0" y2="387.0" stroke-width="1.15"/>
<rect x="706.3" y="374.0" width="2.6" height="2.0" fill="#00007c"/>
<line x1="711.8" x2="711.8" y1="358.0" y2="384.0" stroke-width="1.15"/>
<rect x="710.5" y="370.0" width="2.6" height="7.0" fill="#eeeff4"/>
<line x1="716.0" x2="716.0" y1="342.0" y2="377.0" stroke-width="1.15"/>
<rect x="714.7" y="345.0" width="2.6" height="30.0" fill="#eeeff4"/>
<line x1="720.2" x2="720.2" y1="340.0" y2="364.0" stroke-width="1.15"/>
<rect x="718.9" y="346.0" width="2.6" height="12.0" fill="#ff0505"/>
<line x1="724.4" x2="724.4" y1="344.0" y2="367.0" stroke-width="1.15"/>
<rect x="723.1" y="358.0" width="2.6" height="4.0" fill="#ff0505"/>
<line x1="728.7" x2="728.7" y1="350.0" y2="365.0" stroke-width="1.15"/>
<rect x="727.4" y="354.0" width="2.6" height="8.0" fill="#eeeff4"/>
<line x1="732.9" x2="732.9" y1="351.0" y2="370.0" stroke-width="1.15"/>
<rect x="731.6" y="353.0" width="2.6" height="9.0" fill="#ff0505"/>
<line x1="737.1" x2="737.1" y1="353.0" y2="388.0" stroke-width="1.15"/>
<rect x="735.8" y="361.0" width="2.6" height="12.0" fill="#ff0505"/>
<line x1="741.3" x2="741.3" y1="348.0" y2="380.0" stroke-width="1.15"/>
<rect x="740.0" y="353.0" width="2.6" height="22.0" fill="#eeeff4"/>
<line x1="745.5" x2="745.5" y1="342.0" y2="356.0" stroke-width="1.15"/>
<rect x="744.2" y="343.5" width="2.6" height="9.5" fill="#eeeff4"/>
<line x1="749.8" x2="749.8" y1="321.0" y2="365.0" stroke-width="1.15"/>
<rect x="748.5" y="344.0" width="2.6" height="20.0" fill="#ff0505"/>
<line x1="754.0" x2="754.0" y1="299.0" y2="366.0" stroke-width="1.15"/>
<rect x="752.7" y="314.0" width="2.6" height="50.0" fill="#eeeff4"/>
<line x1="758.2" x2="758.2" y1="311.0" y2="332.0" stroke-width="1.15"/>
<rect x="756.9" y="313.0" width="2.6" height="15.0" fill="#ff0505"/>
<line x1="762.4" x2="762.4" y1="290.0" y2="329.0" stroke-width="1.15"/>
<rect x="761.1" y="292.0" width="2.6" height="36.0" fill="#eeeff4"/>
<line x1="770.9" x2="770.9" y1="266.0" y2="304.0" stroke-width="1.15"/>
<rect x="769.6" y="292.0" width="2.6" height="7.0" fill="#ff0505"/>
<line x1="775.1" x2="775.1" y1="271.0" y2="302.0" stroke-width="1.15"/>
<rect x="773.8" y="276.0" width="2.6" height="23.0" fill="#eeeff4"/>
<line x1="779.3" x2="779.3" y1="258.0" y2="278.0" stroke-width="1.15"/>
<rect x="778.0" y="265.0" width="2.6" height="12.0" fill="#eeeff4"/>
<line x1="783.5" x2="783.5" y1="253.0" y2="270.0" stroke-width="1.15"/>
<rect x="782.2" y="260.0" width="2.6" height="4.0" fill="#eeeff4"/>
<line x1="787.7" x2="787.7" y1="241.0" y2="267.0" stroke-width="1.15"/>
<rect x="786.4" y="253.5" width="2.6" height="6.5" fill="#eeeff4"/>
<line x1="792.0" x2="792.0" y1="225.0" y2="253.0" stroke-width="1.15"/>
<rect x="790.7" y="226.0" width="2.6" height="26.0" fill="#eeeff4"/>
<line x1="796.2" x2="796.2" y1="217.0" y2="273.0" stroke-width="1.15"/>
<rect x="794.9" y="226.0" width="2.6" height="25.0" fill="#ff0505"/>
<line x1="800.4" x2="800.4" y1="225.0" y2="257.0" stroke-width="1.15"/>
<rect x="799.1" y="241.0" width="2.6" height="10.0" fill="#eeeff4"/>
<line x1="804.6" x2="804.6" y1="238.0" y2="265.0" stroke-width="1.15"/>
<rect x="803.3" y="241.0" width="2.6" height="9.0" fill="#ff0505"/>
<line x1="808.8" x2="808.8" y1="228.0" y2="263.0" stroke-width="1.15"/>
<rect x="807.5" y="229.0" width="2.6" height="21.0" fill="#eeeff4"/>
<line x1="813.0" x2="813.0" y1="220.0" y2="248.0" stroke-width="1.15"/>
<rect x="811.7" y="229.0" width="2.6" height="17.0" fill="#ff0505"/>
<line x1="817.3" x2="817.3" y1="224.0" y2="247.0" stroke-width="1.15"/>
<rect x="816.0" y="244.0" width="2.6" height="2.0" fill="#00007c"/>
<line x1="821.5" x2="821.5" y1="222.0" y2="247.0" stroke-width="1.15"/>
<rect x="820.2" y="235.0" width="2.6" height="10.0" fill="#eeeff4"/>
<line x1="825.7" x2="825.7" y1="226.0" y2="246.0" stroke-width="1.15"/>
<rect x="824.4" y="235.0" width="2.6" height="4.0" fill="#ff0505"/>
<line x1="829.9" x2="829.9" y1="225.0" y2="243.0" stroke-width="1.15"/>
<rect x="828.6" y="229.0" width="2.6" height="10.0" fill="#eeeff4"/>
<line x1="834.1" x2="834.1" y1="224.0" y2="241.0" stroke-width="1.15"/>
<rect x="832.8" y="229.5" width="2.6" height="4.5" fill="#ff0505"/>
<line x1="838.4" x2="838.4" y1="232.0" y2="260.0" stroke-width="1.15"/>
<rect x="837.1" y="234.0" width="2.6" height="25.0" fill="#ff0505"/>
<line x1="842.6" x2="842.6" y1="260.0" y2="272.0" stroke-width="1.15"/>
<rect x="841.3" y="260.0" width="2.6" height="3.0" fill="#00007c"/>
<line x1="846.8" x2="846.8" y1="249.0" y2="271.0" stroke-width="1.15"/>
<rect x="845.5" y="250.0" width="2.6" height="13.0" fill="#eeeff4"/>
<line x1="851.0" x2="851.0" y1="248.0" y2="267.0" stroke-width="1.15"/>
<rect x="849.7" y="250.0" width="2.6" height="6.0" fill="#ff0505"/>
<line x1="855.2" x2="855.2" y1="251.0" y2="272.0" stroke-width="1.15"/>
<rect x="853.9" y="257.0" width="2.6" height="3.0" fill="#ff0505"/>
<line x1="859.5" x2="859.5" y1="207.0" y2="264.0" stroke-width="1.15"/>
<rect x="858.2" y="209.0" width="2.6" height="51.0" fill="#eeeff4"/>
<line x1="863.7" x2="863.7" y1="201.0" y2="218.0" stroke-width="1.15"/>
<rect x="862.4" y="204.0" width="2.6" height="5.0" fill="#eeeff4"/>
<line x1="867.9" x2="867.9" y1="182.0" y2="205.0" stroke-width="1.15"/>
<rect x="866.6" y="183.0" width="2.6" height="21.0" fill="#eeeff4"/>
<line x1="872.1" x2="872.1" y1="153.0" y2="189.0" stroke-width="1.15"/>
<rect x="870.8" y="162.0" width="2.6" height="21.0" fill="#eeeff4"/>
<line x1="876.3" x2="876.3" y1="145.0" y2="167.0" stroke-width="1.15"/>
<rect x="875.0" y="158.0" width="2.6" height="4.0" fill="#eeeff4"/>
<line x1="880.6" x2="880.6" y1="153.0" y2="172.0" stroke-width="1.15"/>
<rect x="879.3" y="159.0" width="2.6" height="9.0" fill="#ff0505"/>
<line x1="884.8" x2="884.8" y1="165.0" y2="191.0" stroke-width="1.15"/>
<rect x="883.5" y="168.0" width="2.6" height="13.0" fill="#ff0505"/>
<line x1="889.0" x2="889.0" y1="171.0" y2="186.0" stroke-width="1.15"/>
<rect x="887.7" y="174.0" width="2.6" height="7.0" fill="#eeeff4"/>
<line x1="893.2" x2="893.2" y1="172.0" y2="198.0" stroke-width="1.15"/>
<rect x="891.9" y="174.0" width="2.6" height="22.0" fill="#ff0505"/>
<line x1="897.4" x2="897.4" y1="181.0" y2="206.0" stroke-width="1.15"/>
<rect x="896.1" y="186.0" width="2.6" height="10.0" fill="#eeeff4"/>
<line x1="901.6" x2="901.6" y1="172.0" y2="198.0" stroke-width="1.15"/>
<rect x="900.3" y="175.0" width="2.6" height="11.0" fill="#eeeff4"/>
<line x1="905.9" x2="905.9" y1="174.0" y2="204.0" stroke-width="1.15"/>
<rect x="904.6" y="175.0" width="2.6" height="17.0" fill="#ff0505"/>
<line x1="910.1" x2="910.1" y1="184.0" y2="196.0" stroke-width="1.15"/>
<rect x="908.8" y="185.5" width="2.6" height="6.0" fill="#eeeff4"/>
<line x1="914.3" x2="914.3" y1="166.0" y2="201.0" stroke-width="1.15"/>
<rect x="913.0" y="185.5" width="2.6" height="11.5" fill="#ff0505"/>
<line x1="918.5" x2="918.5" y1="175.0" y2="206.0" stroke-width="1.15"/>
<rect x="917.2" y="180.0" width="2.6" height="17.0" fill="#eeeff4"/>
<line x1="922.7" x2="922.7" y1="156.0" y2="184.0" stroke-width="1.15"/>
<rect x="921.4" y="157.5" width="2.6" height="22.5" fill="#eeeff4"/>
<line x1="927.0" x2="927.0" y1="142.0" y2="161.0" stroke-width="1.15"/>
<rect x="925.7" y="145.0" width="2.6" height="13.0" fill="#eeeff4"/>
<line x1="931.2" x2="931.2" y1="106.0" y2="155.0" stroke-width="1.15"/>
<rect x="929.9" y="109.0" width="2.6" height="36.5" fill="#eeeff4"/>
<line x1="935.4" x2="935.4" y1="96.0" y2="120.0" stroke-width="1.15"/>
<rect x="934.1" y="109.0" width="2.6" height="6.5" fill="#eeeff4"/>
<line x1="939.6" x2="939.6" y1="108.0" y2="158.0" stroke-width="1.15"/>
<rect x="938.3" y="115.5" width="2.6" height="37.5" fill="#ff0505"/>
<line x1="943.8" x2="943.8" y1="129.0" y2="158.0" stroke-width="1.15"/>
<rect x="942.5" y="142.0" width="2.6" height="11.0" fill="#eeeff4"/>
<line x1="948.1" x2="948.1" y1="130.0" y2="149.0" stroke-width="1.15"/>
<rect x="946.8" y="141.5" width="2.6" height="1.5" fill="#00007c"/>
<line x1="952.3" x2="952.3" y1="137.0" y2="153.0" stroke-width="1.15"/>
<rect x="951.0" y="138.0" width="2.6" height="4.0" fill="#eeeff4"/>
<line x1="956.5" x2="956.5" y1="136.0" y2="167.0" stroke-width="1.15"/>
<rect x="955.2" y="139.0" width="2.6" height="22.0" fill="#ff0505"/>
<line x1="960.7" x2="960.7" y1="143.0" y2="181.0" stroke-width="1.15"/>
<rect x="959.4" y="161.5" width="2.6" height="18.0" fill="#ff0505"/>
<line x1="964.9" x2="964.9" y1="174.0" y2="235.0" stroke-width="1.15"/>
<rect x="963.6" y="179.5" width="2.6" height="50.5" fill="#ff0505"/>
<line x1="969.2" x2="969.2" y1="220.0" y2="257.0" stroke-width="1.15"/>
<rect x="967.9" y="229.0" width="2.6" height="18.0" fill="#ff0505"/>
<line x1="973.4" x2="973.4" y1="243.0" y2="261.0" stroke-width="1.15"/>
<rect x="972.1" y="244.0" width="2.6" height="3.0" fill="#ff0505"/>
<line x1="977.6" x2="977.6" y1="235.0" y2="250.0" stroke-width="1.15"/>
<rect x="976.3" y="244.0" width="2.6" height="4.0" fill="#ff0505"/>
<line x1="981.8" x2="981.8" y1="239.0" y2="262.0" stroke-width="1.15"/>
<rect x="980.5" y="247.5" width="2.6" height="1.5" fill="#00007c"/>
<line x1="986.0" x2="986.0" y1="210.0" y2="251.0" stroke-width="1.15"/>
<rect x="984.7" y="215.0" width="2.6" height="34.0" fill="#eeeff4"/>
<line x1="990.2" x2="990.2" y1="212.0" y2="237.0" stroke-width="1.15"/>
<rect x="988.9" y="216.0" width="2.6" height="14.0" fill="#ff0505"/>
<line x1="994.5" x2="994.5" y1="206.0" y2="234.0" stroke-width="1.15"/>
<rect x="993.2" y="209.0" width="2.6" height="21.0" fill="#eeeff4"/>
<line x1="998.7" x2="998.7" y1="184.0" y2="210.0" stroke-width="1.15"/>
<rect x="997.4" y="189.0" width="2.6" height="20.0" fill="#eeeff4"/>
<line x1="1002.9" x2="1002.9" y1="185.0" y2="231.0" stroke-width="1.15"/>
<rect x="1001.6" y="189.0" width="2.6" height="34.0" fill="#ff0505"/>
<line x1="1007.1" x2="1007.1" y1="204.0" y2="229.0" stroke-width="1.15"/>
<rect x="1005.8" y="207.0" width="2.6" height="15.0" fill="#eeeff4"/>
<line x1="1011.3" x2="1011.3" y1="195.0" y2="217.0" stroke-width="1.15"/>
<rect x="1010.0" y="204.0" width="2.6" height="3.0" fill="#eeeff4"/>
<line x1="1015.6" x2="1015.6" y1="184.0" y2="207.0" stroke-width="1.15"/>
<rect x="1014.3" y="198.0" width="2.6" height="6.0" fill="#eeeff4"/>
<line x1="1019.8" x2="1019.8" y1="169.0" y2="216.0" stroke-width="1.15"/>
<rect x="1018.5" y="180.0" width="2.6" height="18.0" fill="#eeeff4"/>
<line x1="1024.0" x2="1024.0" y1="160.0" y2="198.0" stroke-width="1.15"/>
<rect x="1022.7" y="180.0" width="2.6" height="8.0" fill="#ff0505"/>
<line x1="1028.2" x2="1028.2" y1="174.0" y2="195.0" stroke-width="1.15"/>
<rect x="1026.9" y="179.5" width="2.6" height="8.5" fill="#eeeff4"/>
<line x1="1032.4" x2="1032.4" y1="150.0" y2="184.0" stroke-width="1.15"/>
<rect x="1031.1" y="156.4" width="2.6" height="22.0" fill="#eeeff4"/>
<line x1="1036.7" x2="1036.7" y1="153.0" y2="174.0" stroke-width="1.15"/>
<rect x="1035.4" y="156.4" width="2.6" height="16.6" fill="#ff0505"/>
<line x1="1040.9" x2="1040.9" y1="163.0" y2="192.0" stroke-width="1.15"/>
<rect x="1039.6" y="173.0" width="2.6" height="15.0" fill="#ff0505"/>
<line x1="1045.1" x2="1045.1" y1="181.0" y2="242.0" stroke-width="1.15"/>
<rect x="1043.8" y="188.0" width="2.6" height="49.0" fill="#ff0505"/>
<line x1="1049.3" x2="1049.3" y1="213.0" y2="247.0" stroke-width="1.15"/>
<rect x="1048.0" y="233.0" width="2.6" height="5.0" fill="#eeeff4"/>
<line x1="1053.5" x2="1053.5" y1="220.0" y2="247.0" stroke-width="1.15"/>
<rect x="1052.2" y="233.0" width="2.6" height="11.0" fill="#ff0505"/>
<line x1="1057.8" x2="1057.8" y1="231.0" y2="250.0" stroke-width="1.15"/>
<rect x="1056.5" y="232.0" width="2.6" height="12.0" fill="#eeeff4"/>
<line x1="1062.0" x2="1062.0" y1="226.0" y2="242.0" stroke-width="1.15"/>
<rect x="1060.7" y="232.0" width="2.6" height="7.0" fill="#ff0505"/>
<line x1="1066.2" x2="1066.2" y1="227.0" y2="263.0" stroke-width="1.15"/>
<rect x="1064.9" y="233.0" width="2.6" height="6.0" fill="#eeeff4"/>
<line x1="1070.4" x2="1070.4" y1="228.0" y2="253.0" stroke-width="1.15"/>
<rect x="1069.1" y="233.0" width="2.6" height="1.2" fill="#00007c"/>
<line x1="1074.6" x2="1074.6" y1="218.0" y2="236.0" stroke-width="1.15"/>
<rect x="1073.3" y="219.0" width="2.6" height="15.0" fill="#eeeff4"/>
<line x1="1078.8" x2="1078.8" y1="197.0" y2="220.0" stroke-width="1.15"/>
<rect x="1077.5" y="208.0" width="2.6" height="11.0" fill="#eeeff4"/>
<line x1="1083.1" x2="1083.1" y1="185.0" y2="208.0" stroke-width="1.15"/>
<rect x="1081.8" y="191.5" width="2.6" height="10.0" fill="#eeeff4"/>
<line x1="1087.3" x2="1087.3" y1="189.0" y2="239.0" stroke-width="1.15"/>
<rect x="1086.0" y="191.5" width="2.6" height="40.0" fill="#ff0505"/>
<line x1="1091.5" x2="1091.5" y1="223.0" y2="238.0" stroke-width="1.15"/>
<rect x="1090.2" y="232.0" width="2.6" height="5.0" fill="#ff0505"/>
<line x1="1095.7" x2="1095.7" y1="232.0" y2="257.0" stroke-width="1.15"/>
<rect x="1094.4" y="237.0" width="2.6" height="7.0" fill="#ff0505"/>
<line x1="1099.9" x2="1099.9" y1="241.0" y2="282.0" stroke-width="1.15"/>
<rect x="1098.3" y="244.0" width="3.2" height="33.0" fill="#ff0505"/>
</g>
<polygon points="2.4,67.6 6.0,72.0 15.0,68.0 28.0,75.6 38.0,73.6 45.5,70.6 50.0,63.0 57.0,59.0 64.0,60.0 70.0,63.0 74.0,72.0 80.0,77.0 88.0,92.0 93.0,98.0 100.0,114.0 104.0,123.5 109.0,126.0 116.0,134.0 122.0,140.0 129.4,149.0 138.0,149.2 146.0,154.0 154.0,162.0 160.0,169.0 166.0,184.0 172.0,201.0 176.0,202.0 183.0,201.0 188.0,195.5 194.0,190.0 200.0,179.5 204.0,177.0 212.0,175.4 220.0,173.0 225.0,171.4 230.7,173.0 234.9,171.4 239.9,176.3 246.3,187.7 252.0,198.3 255.5,211.1 260.5,223.2 264.0,236.6 266.9,250.8 269.7,262.2 274.0,272.1 277.5,277.8 281.8,280.0 289.0,283.0 296.0,292.0 306.0,299.0 318.0,301.0 328.0,310.0 336.0,322.0 343.0,342.0 350.0,356.0 356.0,371.0 362.0,378.0 368.0,373.0 374.0,360.5 382.0,366.0 390.0,380.0 400.0,394.0 410.0,409.0 424.0,419.0 430.0,425.0 436.0,433.0 442.0,440.0 452.0,439.6 460.0,448.0 470.0,448.5 480.0,448.0 486.0,455.0 497.0,458.5 502.0,454.0 512.0,453.0 526.0,451.0 535.0,449.2 540.0,450.8 543.0,437.8 550.0,417.9 558.0,401.9 566.0,387.9 574.0,371.9 580.0,361.0 588.0,353.0 598.0,349.0 611.0,345.0 616.0,354.0 620.0,366.0 623.0,377.0 628.0,376.3 634.0,368.0 640.0,361.0 648.0,360.4 660.0,363.0 672.0,370.0 684.0,375.0 692.0,379.0 699.0,382.0 704.0,375.0 710.0,366.0 716.0,353.0 722.0,346.0 730.0,340.0 740.0,332.0 748.0,325.8 753.0,315.8 760.0,301.8 768.0,289.8 778.0,269.9 784.0,255.9 789.0,240.9 793.0,228.0 800.0,214.0 808.0,202.0 816.0,196.0 830.0,195.4 835.0,202.0 844.0,210.0 852.0,217.0 856.0,222.0 862.0,211.8 868.0,197.8 873.0,179.8 880.0,160.9 888.0,148.9 900.0,139.9 912.0,133.9 924.0,129.9 929.0,125.0 934.0,116.0 940.0,119.0 948.0,116.0 960.0,113.5 966.0,110.0 972.0,101.0 982.0,94.4 992.0,94.4 1004.0,95.6 1010.0,101.0 1015.0,110.0 1020.0,122.0 1028.0,136.0 1036.0,146.0 1040.0,151.0 1046.0,155.0 1056.0,156.3 1068.0,158.0 1080.0,158.5 1092.0,158.2 1100.0,155.5 1100.7,155.5 1100.7,277.8 1100.3,277.8 1098.0,272.8 1094.0,264.8 1088.0,258.8 1082.0,256.8 1076.0,257.8 1071.0,259.4 1067.0,257.8 1062.0,260.2 1056.0,263.4 1049.0,264.2 1044.0,261.8 1038.0,262.8 1030.0,267.8 1022.0,272.8 1016.0,277.8 1011.0,283.2 1004.0,279.8 998.0,274.8 993.0,275.8 986.0,269.8 980.0,263.8 974.0,249.8 972.0,246.0 968.0,237.0 964.0,222.0 960.0,214.5 955.0,212.5 948.0,214.0 940.0,224.0 936.0,237.8 932.0,247.7 929.0,251.9 924.0,261.9 918.0,271.9 908.0,278.9 896.0,286.8 885.0,292.8 876.0,292.8 868.0,279.9 864.0,274.3 856.0,274.9 848.0,285.8 842.0,297.8 839.5,307.1 834.6,318.5 832.4,328.4 829.6,341.2 825.4,349.7 821.8,359.6 819.7,369.5 816.8,379.5 809.7,392.3 800.5,403.6 796.3,405.7 791.3,410.4 782.8,410.4 775.7,420.0 770.0,428.0 763.0,439.0 758.0,440.0 755.0,442.3 750.0,440.5 740.0,444.3 732.0,449.0 724.0,460.0 720.0,470.0 715.3,476.5 708.0,473.5 700.0,469.0 694.0,468.0 680.0,471.5 668.0,470.0 660.0,471.0 647.0,471.0 642.0,466.0 636.0,456.0 631.0,440.0 628.0,433.0 623.0,433.0 619.0,453.9 615.0,473.9 611.0,492.9 606.0,500.8 598.0,510.8 590.0,523.8 583.0,537.8 579.0,545.4 572.0,545.8 564.0,546.8 552.0,539.8 544.0,529.8 540.0,521.8 532.0,519.0 526.0,514.0 516.0,515.0 508.0,516.0 500.0,509.0 496.0,502.0 490.0,500.5 480.0,503.0 474.0,510.0 466.0,511.0 460.0,519.0 455.0,533.0 450.0,543.0 440.0,545.0 426.0,548.4 414.0,548.0 404.0,551.0 396.0,555.0 390.0,551.0 382.0,549.0 376.0,537.0 370.0,509.0 364.0,485.0 358.0,472.0 352.0,469.3 340.0,470.0 330.0,462.0 320.0,449.0 312.0,440.0 304.0,430.0 294.0,416.0 286.0,402.0 280.0,392.0 276.0,380.0 268.0,377.0 260.0,385.0 252.0,389.0 246.0,386.0 238.0,380.0 230.0,360.0 222.0,338.0 216.0,316.0 212.0,303.0 208.0,296.0 204.0,284.0 200.0,277.0 196.0,266.0 189.0,249.0 185.0,239.0 176.0,242.0 170.0,246.0 164.0,256.0 158.0,263.2 150.0,263.0 140.0,259.0 130.0,257.2 120.0,257.2 112.0,254.0 104.0,245.0 96.0,238.0 90.0,231.0 87.0,225.5 80.0,226.3 70.0,224.3 60.0,216.0 53.0,207.0 48.0,190.0 43.0,176.0 36.0,170.5 26.0,167.0 20.0,162.0 16.0,159.0 10.0,162.0 6.0,165.5 2.4,177.0" fill="rgba(186,188,185,0.4)"/>
<rect x="1" y="248.2" width="1212" height="23.4" fill="rgba(162,168,247,0.3)"/>
<rect x="222.4" y="319.6" width="990.6" height="22.4" fill="rgba(162,168,247,0.3)"/>
<polyline points="2.4,67.6 6.0,72.0 15.0,68.0 28.0,75.6 38.0,73.6 45.5,70.6 50.0,63.0 57.0,59.0 64.0,60.0 70.0,63.0 74.0,72.0 80.0,77.0 88.0,92.0 93.0,98.0 100.0,114.0 104.0,123.5 109.0,126.0 116.0,134.0 122.0,140.0 129.4,149.0 138.0,149.2 146.0,154.0 154.0,162.0 160.0,169.0 166.0,184.0 172.0,201.0 176.0,202.0 183.0,201.0 188.0,195.5 194.0,190.0 200.0,179.5 204.0,177.0 212.0,175.4 220.0,173.0 225.0,171.4 230.7,173.0 234.9,171.4 239.9,176.3 246.3,187.7 252.0,198.3 255.5,211.1 260.5,223.2 264.0,236.6 266.9,250.8 269.7,262.2 274.0,272.1 277.5,277.8 281.8,280.0 289.0,283.0 296.0,292.0 306.0,299.0 318.0,301.0 328.0,310.0 336.0,322.0 343.0,342.0 350.0,356.0 356.0,371.0 362.0,378.0 368.0,373.0 374.0,360.5 382.0,366.0 390.0,380.0 400.0,394.0 410.0,409.0 424.0,419.0 430.0,425.0 436.0,433.0 442.0,440.0 452.0,439.6 460.0,448.0 470.0,448.5 480.0,448.0 486.0,455.0 497.0,458.5 502.0,454.0 512.0,453.0 526.0,451.0 535.0,449.2 540.0,450.8 543.0,437.8 550.0,417.9 558.0,401.9 566.0,387.9 574.0,371.9 580.0,361.0 588.0,353.0 598.0,349.0 611.0,345.0 616.0,354.0 620.0,366.0 623.0,377.0 628.0,376.3 634.0,368.0 640.0,361.0 648.0,360.4 660.0,363.0 672.0,370.0 684.0,375.0 692.0,379.0 699.0,382.0 704.0,375.0 710.0,366.0 716.0,353.0 722.0,346.0 730.0,340.0 740.0,332.0 748.0,325.8 753.0,315.8 760.0,301.8 768.0,289.8 778.0,269.9 784.0,255.9 789.0,240.9 793.0,228.0 800.0,214.0 808.0,202.0 816.0,196.0 830.0,195.4 835.0,202.0 844.0,210.0 852.0,217.0 856.0,222.0 862.0,211.8 868.0,197.8 873.0,179.8 880.0,160.9 888.0,148.9 900.0,139.9 912.0,133.9 924.0,129.9 929.0,125.0 934.0,116.0 940.0,119.0 948.0,116.0 960.0,113.5 966.0,110.0 972.0,101.0 982.0,94.4 992.0,94.4 1004.0,95.6 1010.0,101.0 1015.0,110.0 1020.0,122.0 1028.0,136.0 1036.0,146.0 1040.0,151.0 1046.0,155.0 1056.0,156.3 1068.0,158.0 1080.0,158.5 1092.0,158.2 1100.0,155.5" fill="none" stroke="#8c8c1e" stroke-width="1.3" stroke-linejoin="round"/>
<polyline points="2.4,177.0 6.0,165.5 10.0,162.0 16.0,159.0 20.0,162.0 26.0,167.0 36.0,170.5 43.0,176.0 48.0,190.0 53.0,207.0 60.0,216.0 70.0,224.3 80.0,226.3 87.0,225.5 90.0,231.0 96.0,238.0 104.0,245.0 112.0,254.0 120.0,257.2 130.0,257.2 140.0,259.0 150.0,263.0 158.0,263.2 164.0,256.0 170.0,246.0 176.0,242.0 185.0,239.0 189.0,249.0 196.0,266.0 200.0,277.0 204.0,284.0 208.0,296.0 212.0,303.0 216.0,316.0 222.0,338.0 230.0,360.0 238.0,380.0 246.0,386.0 252.0,389.0 260.0,385.0 268.0,377.0 276.0,380.0 280.0,392.0 286.0,402.0 294.0,416.0 304.0,430.0 312.0,440.0 320.0,449.0 330.0,462.0 340.0,470.0 352.0,469.3 358.0,472.0 364.0,485.0 370.0,509.0 376.0,537.0 382.0,549.0 390.0,551.0 396.0,555.0 404.0,551.0 414.0,548.0 426.0,548.4 440.0,545.0 450.0,543.0 455.0,533.0 460.0,519.0 466.0,511.0 474.0,510.0 480.0,503.0 490.0,500.5 496.0,502.0 500.0,509.0 508.0,516.0 516.0,515.0 526.0,514.0 532.0,519.0 540.0,521.8 544.0,529.8 552.0,539.8 564.0,546.8 572.0,545.8 579.0,545.4 583.0,537.8 590.0,523.8 598.0,510.8 606.0,500.8 611.0,492.9 615.0,473.9 619.0,453.9 623.0,433.0 628.0,433.0 631.0,440.0 636.0,456.0 642.0,466.0 647.0,471.0 660.0,471.0 668.0,470.0 680.0,471.5 694.0,468.0 700.0,469.0 708.0,473.5 715.3,476.5 720.0,470.0 724.0,460.0 732.0,449.0 740.0,444.3 750.0,440.5 755.0,442.3 758.0,440.0 763.0,439.0 770.0,428.0 775.7,420.0 782.8,410.4 791.3,410.4 796.3,405.7 800.5,403.6 809.7,392.3 816.8,379.5 819.7,369.5 821.8,359.6 825.4,349.7 829.6,341.2 832.4,328.4 834.6,318.5 839.5,307.1 842.0,297.8 848.0,285.8 856.0,274.9 864.0,274.3 868.0,279.9 876.0,292.8 885.0,292.8 896.0,286.8 908.0,278.9 918.0,271.9 924.0,261.9 929.0,251.9 932.0,247.7 936.0,237.8 940.0,224.0 948.0,214.0 955.0,212.5 960.0,214.5 964.0,222.0 968.0,237.0 972.0,246.0 974.0,249.8 980.0,263.8 986.0,269.8 993.0,275.8 998.0,274.8 1004.0,279.8 1011.0,283.2 1016.0,277.8 1022.0,272.8 1030.0,267.8 1038.0,262.8 1044.0,261.8 1049.0,264.2 1056.0,263.4 1062.0,260.2 1067.0,257.8 1071.0,259.4 1076.0,257.8 1082.0,256.8 1088.0,258.8 1094.0,264.8 1098.0,272.8 1100.3,277.8" fill="none" stroke="#8c8c1e" stroke-width="1.3" stroke-linejoin="round"/>
<g stroke="#0a0a0a" stroke-width="1.4" fill="none">
<line x1="1" x2="1213" y1="248.2" y2="248.2"/>
<line x1="1" x2="1213" y1="271.6" y2="271.6"/>
<polyline points="1213,319.6 222.4,319.6 222.4,342 1213,342"/>
</g>
<g fill="#ff0a0a">
<circle cx="12.4" cy="114.0" r="2.5"/>
<circle cx="24.8" cy="119.0" r="2.5"/>
<circle cx="37.3" cy="121.3" r="2.5"/>
<circle cx="49.7" cy="130.0" r="2.5"/>
<circle cx="61.0" cy="137.5" r="2.5"/>
<circle cx="72.3" cy="147.5" r="2.5"/>
<circle cx="83.7" cy="155.0" r="2.5"/>
<circle cx="92.3" cy="167.5" r="2.5"/>
<circle cx="101.0" cy="180.0" r="2.5"/>
<circle cx="112.2" cy="192.3" r="2.5"/>
<circle cx="124.8" cy="200.0" r="2.5"/>
<circle cx="137.4" cy="202.5" r="2.5"/>
<circle cx="149.8" cy="209.7" r="2.5"/>
<circle cx="162.1" cy="217.4" r="2.5"/>
<circle cx="174.7" cy="221.3" r="2.5"/>
<circle cx="187.3" cy="221.3" r="2.5"/>
<circle cx="199.7" cy="226.0" r="2.5"/>
<circle cx="209.7" cy="238.5" r="2.5"/>
<circle cx="219.6" cy="249.8" r="2.5"/>
<circle cx="228.4" cy="262.4" r="2.5"/>
<circle cx="237.2" cy="275.0" r="2.5"/>
<circle cx="248.4" cy="287.4" r="2.5"/>
<circle cx="257.3" cy="300.0" r="2.5"/>
<circle cx="264.9" cy="312.3" r="2.5"/>
<circle cx="273.7" cy="325.0" r="2.5"/>
<circle cx="283.7" cy="337.3" r="2.5"/>
<circle cx="292.3" cy="350.0" r="2.5"/>
<circle cx="303.4" cy="362.3" r="2.5"/>
<circle cx="316.0" cy="372.3" r="2.5"/>
<circle cx="327.4" cy="383.6" r="2.5"/>
<circle cx="336.0" cy="396.0" r="2.5"/>
<circle cx="343.6" cy="408.6" r="2.5"/>
<circle cx="354.8" cy="419.8" r="2.5"/>
<circle cx="366.0" cy="432.4" r="2.5"/>
<circle cx="372.3" cy="444.9" r="2.5"/>
<circle cx="382.3" cy="456.2" r="2.5"/>
<circle cx="392.3" cy="468.5" r="2.5"/>
<circle cx="404.8" cy="476.3" r="2.5"/>
<circle cx="417.2" cy="481.1" r="2.5"/>
<circle cx="429.8" cy="486.1" r="2.5"/>
<circle cx="442.2" cy="491.1" r="2.5"/>
<circle cx="453.4" cy="486.1" r="2.5"/>
<circle cx="466.0" cy="479.3" r="2.5"/>
<circle cx="478.3" cy="475.0" r="2.5"/>
<circle cx="490.9" cy="477.3" r="2.5"/>
<circle cx="503.4" cy="483.5" r="2.5"/>
<circle cx="516.0" cy="483.5" r="2.5"/>
<circle cx="528.4" cy="483.5" r="2.5"/>
<circle cx="541.0" cy="483.5" r="2.5"/>
<circle cx="553.4" cy="473.4" r="2.5"/>
<circle cx="566.1" cy="464.8" r="2.5"/>
<circle cx="577.3" cy="453.6" r="2.5"/>
<circle cx="586.1" cy="441.0" r="2.5"/>
<circle cx="597.2" cy="429.8" r="2.5"/>
<circle cx="608.4" cy="419.9" r="2.5"/>
<circle cx="619.8" cy="407.5" r="2.5"/>
<circle cx="631.0" cy="404.9" r="2.5"/>
<circle cx="643.4" cy="413.5" r="2.5"/>
<circle cx="656.0" cy="414.9" r="2.5"/>
<circle cx="668.3" cy="418.5" r="2.5"/>
<circle cx="680.9" cy="422.3" r="2.5"/>
<circle cx="693.3" cy="423.5" r="2.5"/>
<circle cx="705.9" cy="421.0" r="2.5"/>
<circle cx="717.1" cy="411.0" r="2.5"/>
<circle cx="727.0" cy="398.5" r="2.5"/>
<circle cx="739.6" cy="390.0" r="2.5"/>
<circle cx="752.0" cy="378.5" r="2.5"/>
<circle cx="760.0" cy="366.0" r="2.5"/>
<circle cx="770.0" cy="353.5" r="2.5"/>
<circle cx="777.2" cy="341.1" r="2.5"/>
<circle cx="784.9" cy="328.6" r="2.5"/>
<circle cx="793.4" cy="316.0" r="2.5"/>
<circle cx="802.3" cy="303.6" r="2.5"/>
<circle cx="811.1" cy="291.0" r="2.5"/>
<circle cx="819.8" cy="278.7" r="2.5"/>
<circle cx="829.6" cy="266.1" r="2.5"/>
<circle cx="839.6" cy="256.1" r="2.5"/>
<circle cx="852.3" cy="248.2" r="2.5"/>
<circle cx="864.7" cy="239.8" r="2.5"/>
<circle cx="877.2" cy="228.5" r="2.5"/>
<circle cx="888.4" cy="218.7" r="2.5"/>
<circle cx="901.0" cy="211.1" r="2.5"/>
<circle cx="913.4" cy="203.6" r="2.5"/>
<circle cx="923.4" cy="193.6" r="2.5"/>
<circle cx="932.3" cy="181.0" r="2.5"/>
<circle cx="941.1" cy="170.0" r="2.5"/>
<circle cx="953.5" cy="162.3" r="2.5"/>
<circle cx="966.0" cy="167.3" r="2.5"/>
<circle cx="978.4" cy="177.3" r="2.5"/>
<circle cx="991.0" cy="182.2" r="2.5"/>
<circle cx="1003.4" cy="187.3" r="2.5"/>
<circle cx="1016.0" cy="196.0" r="2.5"/>
<circle cx="1028.4" cy="202.2" r="2.5"/>
<circle cx="1041.0" cy="206.0" r="2.5"/>
<circle cx="1053.4" cy="208.4" r="2.5"/>
<circle cx="1066.0" cy="207.2" r="2.5"/>
<circle cx="1078.3" cy="207.2" r="2.5"/>
<circle cx="1090.9" cy="208.4" r="2.5"/>
</g>
<line x1="935.6" x2="935.6" y1="6.5" y2="821" stroke="#2f7b7b" stroke-width="1.2"/>
<g stroke="#8a8a8a" stroke-width="1.2" stroke-dasharray="1.2 1.8">
<line x1="2" x2="1099" y1="688.8" y2="688.8"/>
<line x1="2" x2="1099" y1="778" y2="778"/>
</g>
<circle cx="1090.8" cy="745.4" r="19.2" fill="rgba(190,196,240,0.5)" stroke="#1a1a1a" stroke-width="1.4"/>
<polyline points="3.0,725.9 7.0,724.9 13.0,727.9 16.0,721.9 21.0,733.9 29.0,755.8 35.0,779.8 39.0,790.8 43.0,787.8 52.5,798.4 60.0,790.8 68.0,782.8 79.0,757.8 86.5,735.3 94.0,747.8 100.0,761.8 105.0,781.8 108.0,786.8 117.0,777.8 122.0,763.8 130.0,753.8 138.0,742.9 146.0,743.9 158.0,735.9 164.0,735.9 172.0,726.9 176.0,732.3 181.0,732.3 185.0,727.9 192.0,749.8 199.0,765.8 206.0,794.8 216.0,794.2 222.0,793.4 236.0,799.8 244.0,781.8 250.0,765.8 255.0,747.8 260.0,738.9 264.0,746.8 269.0,749.8 274.0,759.8 282.0,785.8 286.0,784.8 289.0,787.8 294.0,781.8 300.0,776.8 308.0,765.4 316.0,767.8 324.0,764.8 332.0,776.8 337.0,775.8 344.0,786.8 353.0,774.4 360.0,776.8 366.0,781.8 373.0,791.8 379.0,781.8 386.0,757.8 392.0,737.9 400.0,715.9 408.0,701.9 417.0,687.5 426.0,694.9 433.0,711.9 439.0,721.9 447.0,740.9 455.0,730.9 459.0,731.9 463.0,737.9 469.0,733.9 475.0,737.9 485.0,722.9 488.0,724.3 493.0,722.3 497.0,733.9 501.0,755.8 504.0,756.8 509.0,765.4 518.0,751.8 523.0,728.9 529.0,721.3 535.0,735.9 539.0,735.9 547.0,722.9 556.0,687.9 561.0,680.0 568.0,682.9 574.0,685.5 580.0,681.9 588.0,681.9 594.3,684.9 598.0,701.9 602.0,724.9 608.0,731.9 615.0,740.3 623.0,722.9 628.0,731.9 634.0,759.8 640.0,775.8 644.0,779.4 649.0,775.8 655.0,753.8 662.0,725.9 670.0,705.5 678.0,701.9 686.0,703.9 699.0,698.9 706.0,687.9 712.0,684.9 717.0,677.9 726.0,680.4 733.0,681.0 738.0,688.9 745.0,683.9 749.0,692.5 758.0,690.9 774.0,680.0 780.0,671.6 788.0,674.4 792.0,668.0 803.0,680.0 814.0,688.9 826.0,694.9 835.0,699.9 842.0,726.9 850.0,747.8 856.0,765.8 862.0,735.9 870.0,697.9 876.5,667.0 882.0,673.0 888.0,682.9 896.0,697.9 904.0,703.9 910.0,708.9 920.0,725.9 930.0,707.9 936.0,688.9 940.0,687.9 945.0,696.9 954.0,717.9 964.0,743.8 972.0,777.8 982.0,797.8 990.0,783.8 1000.0,759.8 1010.0,743.8 1022.0,717.9 1030.0,692.9 1035.0,684.9 1040.0,692.9 1046.0,715.9 1054.0,755.8 1062.0,792.4 1071.0,782.8 1080.0,761.8 1084.0,748.8 1088.0,746.2 1092.3,746.8 1097.0,755.8 1100.5,765.4" fill="none" stroke="#9b1f9b" stroke-width="1.1" stroke-linejoin="round"/>
<polyline points="3.0,724.9 11.0,713.5 15.0,723.9 19.0,749.8 24.0,807.7 27.6,770.8 32.0,787.8 36.5,803.8 40.0,783.8 45.0,789.8 49.5,807.7 53.5,803.8 58.0,775.8 61.0,769.4 67.0,769.8 75.0,753.8 79.0,720.9 82.5,708.3 87.0,735.9 91.5,799.8 100.0,789.8 105.0,777.8 108.0,772.8 114.0,776.8 118.0,760.8 120.5,730.5 130.0,753.8 134.0,751.8 138.0,735.9 142.0,734.9 150.0,749.8 154.5,724.9 159.5,724.9 163.0,738.9 168.0,729.9 172.0,718.9 175.5,754.8 180.0,721.9 184.0,713.5 188.0,786.8 193.0,794.8 197.0,792.8 202.0,807.7 206.0,785.8 209.5,782.8 214.0,794.8 217.0,796.8 222.0,804.8 226.0,803.8 230.0,792.8 236.0,802.8 239.0,777.8 243.0,746.8 251.0,742.9 255.0,722.9 261.0,735.9 264.0,789.8 269.0,761.8 273.0,781.8 277.0,787.8 281.5,802.8 287.0,781.8 294.0,753.8 298.0,771.8 302.0,770.8 306.5,752.8 310.5,773.8 318.0,768.8 323.0,757.8 327.0,777.8 331.3,804.8 336.3,765.2 340.3,793.4 345.5,771.8 349.5,763.8 357.4,775.8 361.4,800.8 364.8,798.8 369.8,803.8 373.4,785.8 377.8,751.8 382.8,732.9 386.8,717.5 390.8,717.9 395.2,742.3 398.8,687.9 403.8,674.4 408.1,699.9 411.3,680.6 416.1,698.5 425.3,694.9 429.1,738.9 432.7,742.9 437.7,726.9 441.7,746.8 445.7,747.8 449.7,735.9 453.7,705.9 458.7,728.9 462.7,771.8 466.7,726.9 471.2,744.8 479.0,691.9 483.6,737.9 487.6,740.9 492.6,727.9 496.6,761.8 500.6,803.8 504.4,757.8 509.0,769.8 512.6,697.9 517.6,725.9 522.0,713.9 526.6,699.5 530.0,771.8 535.0,761.8 540.0,709.9 542.5,665.0 547.0,685.9 552.0,676.6 560.0,690.9 564.0,680.0 568.0,680.0 573.0,692.3 580.5,674.4 590.0,685.9 595.0,703.9 598.0,763.8 601.4,794.8 605.8,706.9 610.8,707.9 618.8,739.3 621.8,739.9 627.8,753.8 631.8,795.8 635.4,804.8 640.8,789.8 643.8,751.8 647.8,745.8 652.8,714.9 656.8,709.9 661.8,710.9 668.7,693.3 673.7,707.9 677.7,693.9 681.3,724.9 689.7,685.9 695.7,697.9 699.7,681.0 703.7,677.6 711.7,684.9 715.3,663.6 720.7,684.9 724.7,687.9 728.6,678.6 732.6,682.9 736.6,704.9 745.2,666.0 748.8,722.9 753.6,681.9 757.6,706.9 763.0,660.0 767.0,660.0 770.0,698.9 775.0,672.0 779.0,665.0 788.0,669.0 791.5,661.0 796.3,693.9 800.0,683.9 804.0,691.9 809.0,678.0 813.0,697.9 817.5,705.9 821.3,691.9 825.5,698.9 830.0,689.9 835.0,709.9 838.0,773.8 842.3,782.8 846.5,751.8 855.3,774.8 858.9,664.0 863.9,664.4 867.5,661.0 871.9,670.0 876.9,671.0 885.9,699.9 889.3,692.9 892.9,717.9 901.5,694.9 905.9,712.9 909.9,709.9 913.9,762.8 919.9,743.8 923.9,680.0 926.9,667.0 931.5,662.4 934.9,678.0 938.9,736.9 943.5,724.3 947.9,723.9 952.5,719.9 957.9,751.8 965.5,801.8 973.5,792.8 980.9,797.4 986.5,768.8 990.5,775.8 998.7,727.9 1002.4,759.8 1007.0,743.8 1012.0,733.9 1016.0,691.9 1020.0,677.0 1024.0,698.9 1032.5,669.0 1037.0,695.9 1041.0,729.9 1045.0,799.8 1049.0,787.8 1053.5,802.8 1057.5,782.8 1061.0,789.8 1066.0,770.8 1071.0,769.8 1076.0,737.9 1083.0,715.9 1087.0,765.8 1095.5,775.8 1100.0,799.8" fill="none" stroke="#078383" stroke-width="2.4" stroke-linejoin="miter"/>
<rect x="0" y="6" width="1.2" height="636" fill="#b87276"/>
<rect x="0" y="5.6" width="1213" height="1.2" fill="#c98a86"/>
<rect x="1212" y="6" width="1.2" height="636" fill="#c47f7f"/>
<rect x="0" y="642" width="1213.5" height="1" fill="#b4b4b2"/>
<rect x="0" y="643" width="1213.5" height="1" fill="#7e7e7e"/>
<rect x="0" y="644" width="1213.5" height="1" fill="#aaaaaa"/>
<rect x="0" y="645" width="1.2" height="177" fill="#a9a9a9"/>
<rect x="1212.2" y="645" width="1.4" height="177" fill="#a9a9a9"/>
<rect x="0" y="820.8" width="1213.6" height="1.4" fill="#9a9a9a"/>
<g stroke="#0c0c6a" stroke-width="1.1">
<line x1="1214" x2="1217.5" y1="634.3" y2="634.3"/>
<line x1="1214" x2="1217.5" y1="619.7" y2="619.7"/>
<line x1="1214" x2="1217.5" y1="605.2" y2="605.2"/>
<line x1="1214" x2="1220.5" y1="590.7" y2="590.7" stroke-width="1.35"/>
<line x1="1214" x2="1217.5" y1="576.5" y2="576.5"/>
<line x1="1214" x2="1217.5" y1="562.3" y2="562.3"/>
<line x1="1214" x2="1217.5" y1="548.2" y2="548.2"/>
<line x1="1214" x2="1220.5" y1="534.2" y2="534.2" stroke-width="1.35"/>
<line x1="1214" x2="1217.5" y1="520.1" y2="520.1"/>
<line x1="1214" x2="1217.5" y1="506.0" y2="506.0"/>
<line x1="1214" x2="1217.5" y1="492.0" y2="492.0"/>
<line x1="1214" x2="1220.5" y1="478.1" y2="478.1" stroke-width="1.35"/>
<line x1="1214" x2="1217.5" y1="464.2" y2="464.2"/>
<line x1="1214" x2="1217.5" y1="450.4" y2="450.4"/>
<line x1="1214" x2="1217.5" y1="436.6" y2="436.6"/>
<line x1="1214" x2="1220.5" y1="422.9" y2="422.9" stroke-width="1.35"/>
<line x1="1214" x2="1217.5" y1="409.5" y2="409.5"/>
<line x1="1214" x2="1217.5" y1="396.1" y2="396.1"/>
<line x1="1214" x2="1217.5" y1="382.8" y2="382.8"/>
<line x1="1214" x2="1220.5" y1="369.5" y2="369.5" stroke-width="1.35"/>
<line x1="1214" x2="1217.5" y1="356.0" y2="356.0"/>
<line x1="1214" x2="1217.5" y1="342.6" y2="342.6"/>
<line x1="1214" x2="1217.5" y1="329.2" y2="329.2"/>
<line x1="1214" x2="1220.5" y1="315.9" y2="315.9" stroke-width="1.35"/>
<line x1="1214" x2="1217.5" y1="302.7" y2="302.7"/>
<line x1="1214" x2="1217.5" y1="289.5" y2="289.5"/>
<line x1="1214" x2="1217.5" y1="276.4" y2="276.4"/>
<line x1="1214" x2="1220.5" y1="263.4" y2="263.4" stroke-width="1.35"/>
<line x1="1214" x2="1217.5" y1="250.7" y2="250.7"/>
<line x1="1214" x2="1217.5" y1="238.1" y2="238.1"/>
<line x1="1214" x2="1217.5" y1="225.5" y2="225.5"/>
<line x1="1214" x2="1220.5" y1="213.0" y2="213.0" stroke-width="1.35"/>
<line x1="1214" x2="1217.5" y1="200.2" y2="200.2"/>
<line x1="1214" x2="1217.5" y1="187.4" y2="187.4"/>
<line x1="1214" x2="1217.5" y1="174.7" y2="174.7"/>
<line x1="1214" x2="1220.5" y1="162.0" y2="162.0" stroke-width="1.35"/>
<line x1="1214" x2="1217.5" y1="149.4" y2="149.4"/>
<line x1="1214" x2="1217.5" y1="136.9" y2="136.9"/>
<line x1="1214" x2="1217.5" y1="124.4" y2="124.4"/>
<line x1="1214" x2="1220.5" y1="112.0" y2="112.0" stroke-width="1.35"/>
<line x1="1214" x2="1217.5" y1="99.7" y2="99.7"/>
<line x1="1214" x2="1217.5" y1="87.4" y2="87.4"/>
<line x1="1214" x2="1217.5" y1="75.2" y2="75.2"/>
<line x1="1214" x2="1220.5" y1="63.0" y2="63.0" stroke-width="1.35"/>
<line x1="1214" x2="1217.5" y1="50.8" y2="50.8"/>
<line x1="1214" x2="1217.5" y1="38.7" y2="38.7"/>
<line x1="1214" x2="1217.5" y1="26.6" y2="26.6"/>
<line x1="1214" x2="1220.5" y1="808.8" y2="808.8" stroke-width="1.35"/>
<line x1="1214" x2="1217.5" y1="793.8" y2="793.8"/>
<line x1="1214" x2="1217.5" y1="778.8" y2="778.8"/>
<line x1="1214" x2="1217.5" y1="763.8" y2="763.8"/>
<line x1="1214" x2="1217.5" y1="748.8" y2="748.8"/>
<line x1="1214" x2="1220.5" y1="733.8" y2="733.8" stroke-width="1.35"/>
<line x1="1214" x2="1217.5" y1="718.8" y2="718.8"/>
<line x1="1214" x2="1217.5" y1="703.8" y2="703.8"/>
<line x1="1214" x2="1217.5" y1="688.8" y2="688.8"/>
<line x1="1214" x2="1217.5" y1="673.8" y2="673.8"/>
<line x1="49.2" x2="49.2" y1="822.5" y2="828.5"/>
<line x1="146.7" x2="146.7" y1="822.5" y2="828.5"/>
<line x1="235.4" x2="235.4" y1="822.5" y2="828.5"/>
<line x1="328" x2="328" y1="822.5" y2="828.5"/>
<line x1="426" x2="426" y1="822.5" y2="828.5"/>
<line x1="509" x2="509" y1="822.5" y2="828.5"/>
<line x1="607" x2="607" y1="822.5" y2="828.5"/>
<line x1="699" x2="699" y1="822.5" y2="828.5"/>
<line x1="788" x2="788" y1="822.5" y2="828.5"/>
<line x1="880" x2="880" y1="822.5" y2="828.5"/>
<line x1="966" x2="966" y1="822.5" y2="828.5"/>
<line x1="1054" x2="1054" y1="822.5" y2="828.5"/>
<line x1="1146.4" x2="1146.4" y1="822.5" y2="828.5"/>
</g>
<defs><linearGradient id="fg" x1="0" y1="0" x2="0" y2="1"><stop offset="0" stop-color="#ffffff"/><stop offset="0.45" stop-color="#f0f0f0"/><stop offset="1" stop-color="#bdbdbd"/></linearGradient></defs>
</svg>
<div id="title">
<span id="s0" style="left:3.8px;color:#0c0c6a;transform:scaleX(0.93);transform-origin:0 0">Gold USD/OZ [XAUUSD GTM Täglich]</span>
<span id="s1" style="left:231.9px;color:#000;transform:scaleX(1.021);transform-origin:0 0">16.04.2019 -</span>
<span id="s2" style="left:316.2px;color:#12ba12;transform:scaleX(1.0127);transform-origin:0 0">O:1287,8783</span>
<span id="s3" style="left:403.6px;color:#000;transform:scaleX(0.999);transform-origin:0 0">H:1288,7950</span>
<span id="s4" style="left:489.9px;color:#000;transform:scaleX(1.0095);transform-origin:0 0">L:1273,0500</span>
<span id="s5" style="left:573.5px;color:#ee1515;transform:scaleX(1.004);transform-origin:0 0">C:1274,9167</span>
<span id="s6" style="left:659.8px;color:#ee1515;transform:scaleX(1.006);transform-origin:0 0">-12,9616</span>
<span id="s7" style="left:721.2px;color:#ee1515;transform:scaleX(1.0227);transform-origin:0 0">-1,0064%</span>
<span id="s8" style="left:788.7px;color:#f28a1e;transform:scaleX(1.0);transform-origin:0 0">•</span>
<span id="s9" style="left:797.8px;color:#f28a1e;transform:scaleX(0.966);transform-origin:0 0">15 min delay</span>
</div>
<div class="t" style="left:1224.4px;top:582.8px;font-size:14px;line-height:16px;height:16px;transform:scaleX(1.025);transform-origin:0 0;">1160,0000</div>
<div class="t" style="left:1224.4px;top:526.3px;font-size:14px;line-height:16px;height:16px;transform:scaleX(1.025);transform-origin:0 0;">1180,0000</div>
<div class="t" style="left:1224.4px;top:470.2px;font-size:14px;line-height:16px;height:16px;transform:scaleX(1.025);transform-origin:0 0;">1200,0000</div>
<div class="t" style="left:1224.4px;top:415.0px;font-size:14px;line-height:16px;height:16px;transform:scaleX(1.025);transform-origin:0 0;">1220,0000</div>
<div class="t" style="left:1224.4px;top:361.6px;font-size:14px;line-height:16px;height:16px;transform:scaleX(1.025);transform-origin:0 0;">1240,0000</div>
<div class="t" style="left:1224.4px;top:308.0px;font-size:14px;line-height:16px;height:16px;transform:scaleX(1.025);transform-origin:0 0;">1260,0000</div>
<div class="t" style="left:1224.4px;top:255.5px;font-size:14px;line-height:16px;height:16px;transform:scaleX(1.025);transform-origin:0 0;">1280,0000</div>
<div class="t" style="left:1224.4px;top:205.1px;font-size:14px;line-height:16px;height:16px;transform:scaleX(1.025);transform-origin:0 0;">1300,0000</div>
<div class="t" style="left:1224.4px;top:154.1px;font-size:14px;line-height:16px;height:16px;transform:scaleX(1.025);transform-origin:0 0;">1320,0000</div>
<div class="t" style="left:1224.4px;top:104.1px;font-size:14px;line-height:16px;height:16px;transform:scaleX(1.025);transform-origin:0 0;">1340,0000</div>
<div class="t" style="left:1224.4px;top:55.1px;font-size:14px;line-height:16px;height:16px;transform:scaleX(1.025);transform-origin:0 0;">1360,0000</div>
<div class="t" style="left:1213.7px;top:6.7px;font-size:14px;line-height:16px;height:16px;transform:scaleX(0.945);transform-origin:0 0;">USD</div>
<div class="t" style="left:1289.5px;top:2.6px;font-size:9px;font-weight:bold;letter-spacing:-0.3px">ln</div>
<div class="t" style="left:1224.4px;top:650.9px;font-size:14px;line-height:16px;height:16px;transform:scaleX(1.025);transform-origin:0 0;clip-path:inset(9.2px 0 0 0);">100,0000</div>
<div class="t" style="left:1224.4px;top:725.9px;font-size:14px;line-height:16px;height:16px;transform:scaleX(1.025);transform-origin:0 0;">50,0000</div>
<div class="t" style="left:1225.4px;top:800.9px;font-size:14px;line-height:16px;height:16px;transform:scaleX(1.025);transform-origin:0 0;">0,0000</div>
<div class="t" style="left:1213.5px;top:645.6px;font-size:14px;line-height:16px;height:16px;transform:scaleX(0.94);transform-origin:0 0;">PCR</div>
<svg width="1304" height="846" viewBox="0 0 1304 846" style="position:absolute;left:0;top:0">
<polygon points="1214.3,276.9 1223.2,266.8 1300.6,266.8 1300.6,287.0 1223.2,287.0" fill="url(#fg)" stroke="#1c1c7c" stroke-width="1.2" stroke-linejoin="miter"/>
<polygon points="1214.3,689.4 1223.2,679.3 1300.6,679.3 1300.6,699.5 1223.2,699.5" fill="url(#fg)" stroke="#8c8c8c" stroke-width="1.2" stroke-linejoin="miter"/>
<polygon points="1214.3,779.3 1223.2,769.2 1300.6,769.2 1300.6,789.4 1223.2,789.4" fill="url(#fg)" stroke="#8c8c8c" stroke-width="1.2" stroke-linejoin="miter"/>
<polygon points="1214.3,801.8 1223.2,791.7 1300.6,791.7 1300.6,811.9 1223.2,811.9" fill="url(#fg)" stroke="#1f8a8a" stroke-width="1.2" stroke-linejoin="miter"/>
</svg>
<div class="t" style="left:1224.5px;top:269.1px;font-size:14px;line-height:16px;height:16px;transform:scaleX(1.03);transform-origin:0 0;color:#000;">1274,9167</div>
<div class="t" style="left:1224.5px;top:681.6px;font-size:14px;line-height:16px;height:16px;transform:scaleX(1.03);transform-origin:0 0;color:#000;">80,0000</div>
<div class="t" style="left:1224.5px;top:771.5px;font-size:14px;line-height:16px;height:16px;transform:scaleX(1.03);transform-origin:0 0;color:#000;">20,0000</div>
<div class="t" style="left:1225.5px;top:794.0px;font-size:14px;line-height:16px;height:16px;transform:scaleX(1.03);transform-origin:0 0;color:#000;">4,9648</div>
<div class="t" style="left:47.8px;top:829.3px;font-size:14px;line-height:16px;height:16px;transform:scaleX(0.95);transform-origin:0 0;">Mai</div>
<div class="t" style="left:146.9px;top:829.3px;font-size:14px;line-height:16px;height:16px;transform:scaleX(0.98);transform-origin:0 0;">Jun</div>
<div class="t" style="left:235.4px;top:829.3px;font-size:14px;line-height:16px;height:16px;">Jul</div>
<div class="t" style="left:327.9px;top:829.3px;font-size:14px;line-height:16px;height:16px;transform:scaleX(0.98);transform-origin:0 0;">Aug</div>
<div class="t" style="left:424.6px;top:829.3px;font-size:14px;line-height:16px;height:16px;">Sep</div>
<div class="t" style="left:507.9px;top:829.3px;font-size:14px;line-height:16px;height:16px;transform:scaleX(1.04);transform-origin:0 0;">Okt</div>
<div class="t" style="left:606.1px;top:829.3px;font-size:14px;line-height:16px;height:16px;transform:scaleX(0.99);transform-origin:0 0;">Nov</div>
<div class="t" style="left:697.9px;top:829.3px;font-size:14px;line-height:16px;height:16px;transform:scaleX(0.99);transform-origin:0 0;">Dez</div>
<div class="t" style="left:787.2px;top:829.3px;font-size:14px;line-height:16px;height:16px;transform:scaleX(1.05);transform-origin:0 0;">2019</div>
<div class="t" style="left:879.5px;top:829.3px;font-size:14px;line-height:16px;height:16px;transform:scaleX(0.99);transform-origin:0 0;">Feb</div>
<div class="t" style="left:965.2px;top:829.3px;font-size:14px;line-height:16px;height:16px;transform:scaleX(0.94);transform-origin:0 0;">Mrz</div>
<div class="t" style="left:1054.1px;top:829.3px;font-size:14px;line-height:16px;height:16px;transform:scaleX(0.95);transform-origin:0 0;">Apr</div>
<div class="t" style="left:1145.8px;top:829.3px;font-size:14px;line-height:16px;height:16px;transform:scaleX(0.96);transform-origin:0 0;">Mai</div>
<div class="t" style="left:939.9px;top:82.2px;font-size:16.3px;line-height:18.3px;height:18.3px;transform:scaleX(0.95);transform-origin:0 0;color:#1c08f4;-webkit-text-stroke:0;">H1</div>
<div class="t" style="left:1036.9px;top:126.2px;font-size:16.3px;line-height:18.3px;height:18.3px;transform:scaleX(0.97);transform-origin:0 0;color:#1c08f4;-webkit-text-stroke:0;">H2</div>
<div class="t" style="left:1086.9px;top:167.2px;font-size:16.3px;line-height:18.3px;height:18.3px;transform:scaleX(0.95);transform-origin:0 0;color:#1c08f4;-webkit-text-stroke:0;">H3</div>
<div class="t" style="left:978.0px;top:276.2px;font-size:16.3px;line-height:18.3px;height:18.3px;transform:scaleX(0.92);transform-origin:0 0;color:#1c08f4;-webkit-text-stroke:0;">T1</div>
<div class="t" style="left:1059.0px;top:273.2px;font-size:16.3px;line-height:18.3px;height:18.3px;transform:scaleX(0.98);transform-origin:0 0;color:#1c08f4;-webkit-text-stroke:0;">T2</div>
<div class="t" style="left:1104.9px;top:353.2px;font-size:16.3px;line-height:18.3px;height:18.3px;transform:scaleX(0.94);transform-origin:0 0;color:#1c08f4;-webkit-text-stroke:0;">T3?</div>
<div class="t" style="left:948.2px;top:620.0px;font-size:14px;line-height:16px;height:16px;transform:scaleX(1.05);transform-origin:0 0;color:#3d8a97;">20.02.2019</div>
<svg width="140" height="46" viewBox="0 0 140 46" style="position:absolute;left:0;top:770px;font-family:'Liberation Sans',sans-serif;font-weight:bold">
<defs><mask id="lm" maskUnits="userSpaceOnUse" x="0" y="0" width="140" height="46"><rect x="0" y="0" width="140" height="46" fill="#fff"/><text x="14.2" y="37" font-size="31" fill="#000" stroke="#000" stroke-width="1.2" textLength="42" lengthAdjust="spacingAndGlyphs">on</text></mask></defs>
<g opacity="0.5" fill="#5c5e56" stroke="#5c5e56">
<rect x="10.4" y="2.8" width="50.5" height="38.6" rx="8" ry="8" stroke="none" mask="url(#lm)"/>
<text x="61.6" y="35.3" font-size="20" stroke-width="1.6" textLength="21.5" lengthAdjust="spacingAndGlyphs">LI</text>
<text x="85.3" y="35.3" font-size="28" stroke-width="0.9" textLength="45" lengthAdjust="spacingAndGlyphs">ne</text>
</g>
<text x="64.2" y="15.5" font-size="10.6" fill="#5c5e56" opacity="0.3" textLength="66" lengthAdjust="spacing">tradesignal</text>
<text x="131" y="11.5" font-size="5" fill="#5c5e56" opacity="0.3">®</text>
</svg>
</div></body></html>
